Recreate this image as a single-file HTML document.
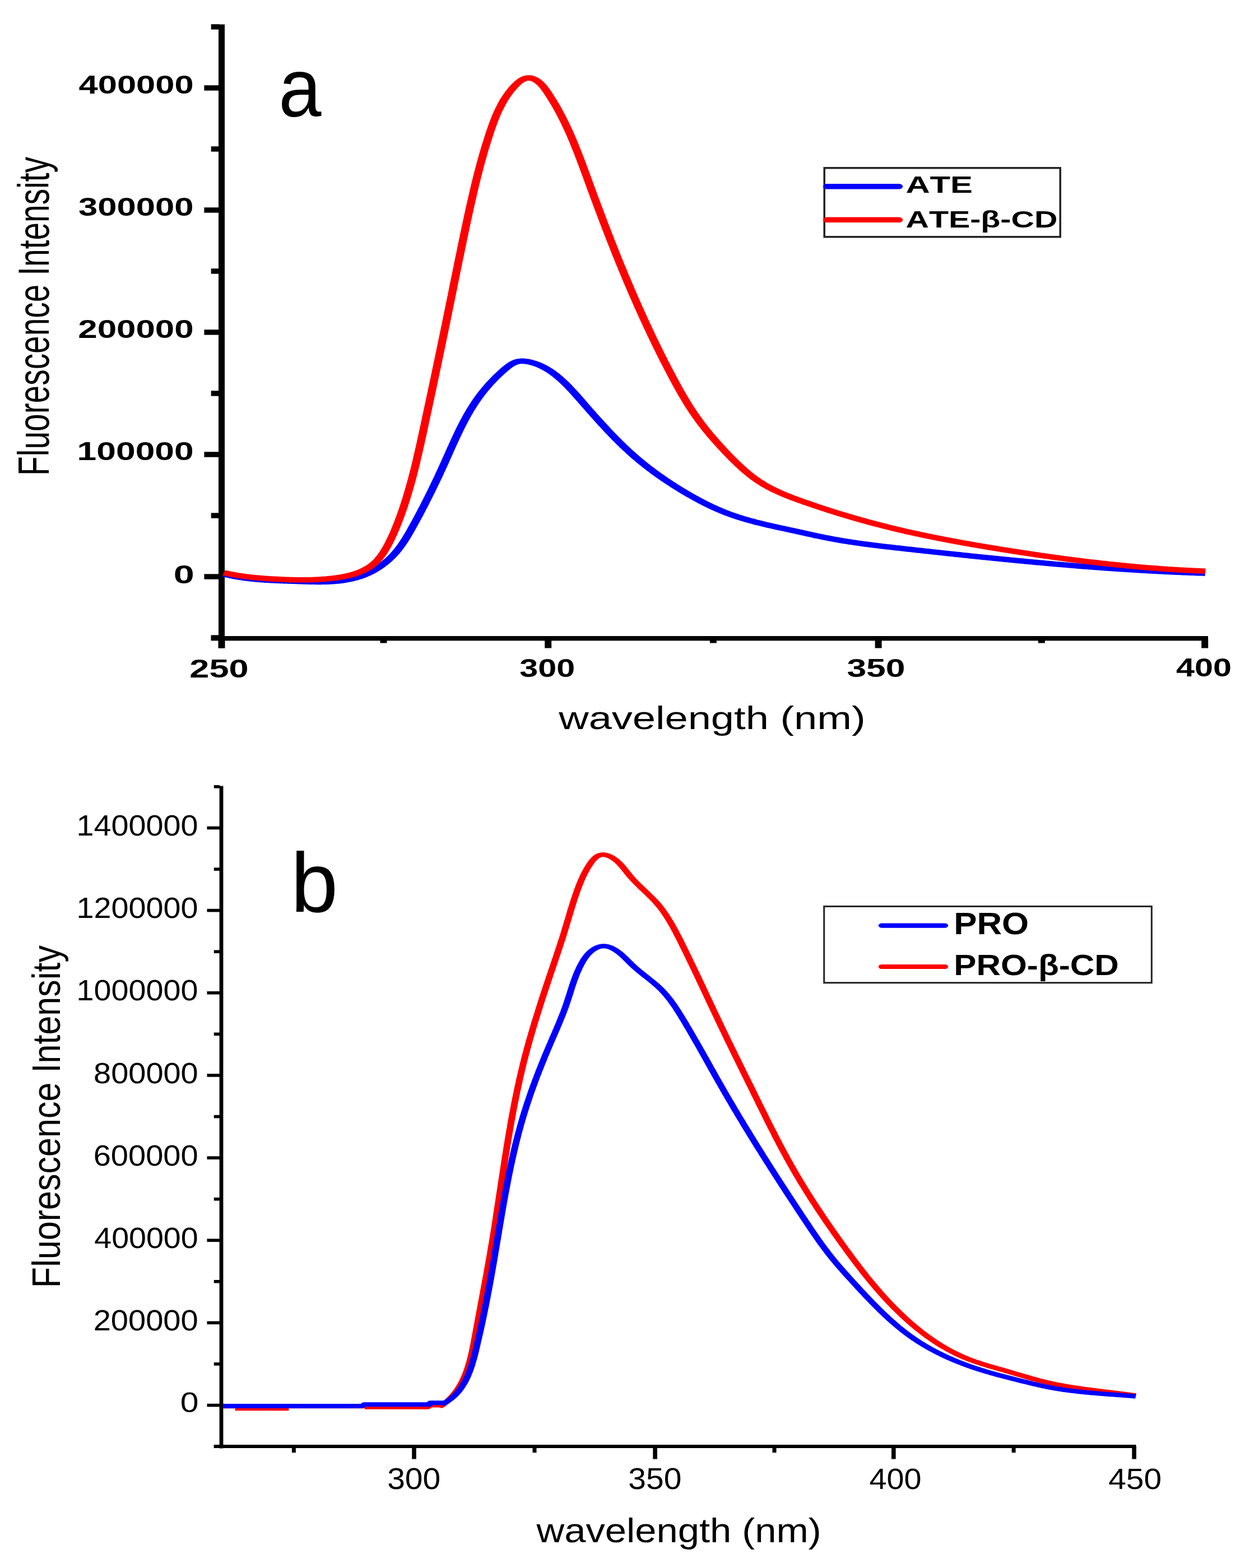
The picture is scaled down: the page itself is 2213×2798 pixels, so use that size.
<!DOCTYPE html>
<html><head><meta charset="utf-8"><title>Fluorescence spectra</title>
<style>
html,body{margin:0;padding:0;background:#fff;}
svg{display:block;}
text{font-family:"Liberation Sans",Arial,sans-serif;font-kerning:none;fill:#000;}
</style></head>
<body>
<svg width="2213" height="2798" viewBox="0 0 2213 2798">
<rect width="2213" height="2798" fill="#fff"/>
<rect x="390.0" y="43.5" width="11.0" height="1113.0" fill="#000"/>
<rect x="364.4" y="1024.3" width="26.6" height="9.4" fill="#000"/>
<rect x="364.4" y="806.3" width="26.6" height="9.4" fill="#000"/>
<rect x="364.4" y="588.2" width="26.6" height="9.4" fill="#000"/>
<rect x="364.4" y="370.2" width="26.6" height="9.4" fill="#000"/>
<rect x="364.4" y="152.2" width="26.6" height="9.4" fill="#000"/>
<rect x="376.7" y="1133.3" width="14.3" height="9.4" fill="#000"/>
<rect x="376.7" y="915.3" width="14.3" height="9.4" fill="#000"/>
<rect x="376.7" y="697.3" width="14.3" height="9.4" fill="#000"/>
<rect x="376.7" y="479.2" width="14.3" height="9.4" fill="#000"/>
<rect x="376.7" y="261.2" width="14.3" height="9.4" fill="#000"/>
<rect x="376.7" y="43.2" width="14.3" height="9.4" fill="#000"/>
<rect x="376.7" y="1135.0" width="1779.3" height="8.3" fill="#000"/>
<rect x="389.5" y="1140.0" width="12.0" height="16.5" fill="#000"/>
<rect x="972.2" y="1140.0" width="12.0" height="16.5" fill="#000"/>
<rect x="1561.6" y="1140.0" width="12.0" height="16.5" fill="#000"/>
<rect x="2144.2" y="1140.0" width="12.0" height="16.5" fill="#000"/>
<rect x="678.5" y="1140.0" width="12.0" height="7.5" fill="#000"/>
<rect x="1266.9" y="1140.0" width="12.0" height="7.5" fill="#000"/>
<rect x="1852.9" y="1140.0" width="12.0" height="7.5" fill="#000"/>
<text transform="translate(140.58 167.01) scale(1.3098 1)" font-size="46.93" font-weight="bold">400000</text>
<text transform="translate(140.11 384.93) scale(1.3174 1)" font-size="46.76" font-weight="bold">300000</text>
<text transform="translate(139.34 603.07) scale(1.3178 1)" font-size="46.93" font-weight="bold">200000</text>
<text transform="translate(137.60 821.10) scale(1.3290 1)" font-size="46.93" font-weight="bold">100000</text>
<text transform="translate(309.64 1040.94) scale(1.4350 1)" font-size="46.36" font-weight="bold">0</text>
<text transform="translate(338.29 1208.54) scale(1.3738 1)" font-size="45.94" font-weight="bold">250</text>
<text transform="translate(927.27 1208.12) scale(1.2826 1)" font-size="46.20" font-weight="bold">300</text>
<text transform="translate(1511.40 1208.12) scale(1.3514 1)" font-size="46.20" font-weight="bold">350</text>
<text transform="translate(2099.11 1207.23) scale(1.2686 1)" font-size="46.78" font-weight="bold">400</text>
<text transform="translate(997.19 1300.75) scale(1.2860 1)" font-size="57.59" font-weight="normal">wavelength (nm)</text>
<text transform="translate(87.08 848.99) rotate(-90) scale(0.7369 1)" font-size="77.21" font-weight="normal">Fluorescence Intensity</text>
<text transform="translate(497.37 208.11) scale(0.9209 1)" font-size="148.86" font-weight="normal">a</text>
<rect x="1471.2" y="299.7" width="421" height="123" fill="none" stroke="#222" stroke-width="3.5"/>
<text transform="translate(1616.40 343.80) scale(1.3987 1)" font-size="42.76" font-weight="bold">ATE</text>
<text transform="translate(1616.47 405.92) scale(1.3410 1)" font-size="42.79" font-weight="bold">ATE-β-CD</text>
<g transform="scale(1.500 1)">
<path d="M266.1 1024.4 L267.4 1024.9 268.7 1025.3 270.0 1025.8 271.3 1026.2 272.6 1026.6 274.0 1027.1 275.3 1027.5 276.6 1027.9 277.9 1028.2 279.2 1028.6 280.5 1029.0 281.8 1029.3 283.1 1029.6 284.5 1030.0 285.8 1030.3 287.1 1030.6 288.4 1030.9 289.7 1031.2 291.1 1031.4 292.4 1031.7 293.7 1032.0 295.0 1032.2 296.4 1032.4 297.7 1032.7 299.0 1032.9 300.3 1033.1 301.7 1033.3 303.0 1033.5 304.3 1033.7 305.7 1033.9 307.0 1034.1 308.3 1034.2 309.6 1034.4 311.0 1034.5 312.3 1034.7 313.6 1034.8 315.0 1035.0 316.3 1035.1 317.6 1035.2 319.0 1035.3 320.3 1035.4 321.6 1035.6 323.0 1035.7 324.3 1035.8 325.6 1035.9 327.0 1036.0 328.3 1036.0 329.6 1036.1 331.0 1036.2 332.3 1036.3 333.6 1036.4 335.0 1036.5 336.3 1036.5 337.6 1036.6 339.0 1036.7 340.3 1036.7 341.6 1036.8 343.0 1036.9 344.3 1037.0 345.6 1037.0 347.0 1037.1 348.3 1037.2 349.6 1037.2 351.0 1037.3 352.3 1037.4 353.6 1037.4 355.0 1037.5 356.3 1037.6 357.6 1037.7 359.0 1037.7 360.3 1037.8 361.6 1037.9 363.0 1037.9 364.3 1038.0 365.6 1038.0 367.0 1038.1 368.3 1038.2 369.7 1038.2 371.0 1038.2 372.3 1038.3 373.7 1038.3 375.0 1038.3 376.3 1038.4 377.7 1038.4 379.0 1038.4 380.3 1038.4 381.7 1038.4 383.0 1038.3 384.3 1038.3 385.7 1038.3 387.0 1038.2 388.3 1038.2 389.7 1038.1 391.0 1038.0 392.3 1037.9 393.7 1037.8 395.0 1037.7 396.3 1037.6 397.7 1037.4 399.0 1037.3 400.3 1037.1 401.7 1036.9 403.0 1036.7 404.3 1036.5 405.6 1036.2 407.0 1036.0 408.3 1035.7 409.6 1035.4 410.9 1035.1 412.2 1034.7 413.6 1034.4 414.9 1034.0 416.2 1033.6 417.5 1033.2 418.8 1032.8 420.1 1032.3 421.4 1031.8 422.7 1031.3 423.9 1030.8 425.2 1030.2 426.5 1029.6 427.8 1029.0 429.0 1028.4 430.3 1027.7 431.6 1027.0 432.8 1026.3 434.0 1025.6 435.3 1024.8 436.5 1024.0 437.7 1023.2 438.9 1022.4 440.1 1021.5 441.3 1020.6 442.5 1019.7 443.7 1018.7 444.9 1017.8 446.0 1016.8 447.2 1015.7 448.3 1014.7 449.4 1013.6 450.5 1012.5 451.7 1011.4 452.8 1010.3 453.8 1009.1 454.9 1007.9 456.0 1006.7 457.0 1005.5 458.1 1004.3 459.1 1003.0 460.1 1001.7 461.2 1000.4 462.2 999.1 463.1 997.7 464.1 996.4 465.1 995.0 466.0 993.6 467.0 992.1 467.9 990.7 468.8 989.2 469.7 987.7 470.6 986.2 471.5 984.7 472.3 983.2 473.2 981.6 474.0 980.1 474.8 978.5 475.6 976.9 476.4 975.3 477.2 973.7 478.0 972.0 478.7 970.4 479.5 968.7 480.2 967.1 481.0 965.4 481.7 963.7 482.4 962.0 483.1 960.3 483.8 958.6 484.5 956.9 485.2 955.2 485.9 953.5 486.5 951.8 487.2 950.0 487.9 948.3 488.5 946.5 489.2 944.8 489.8 943.1 490.5 941.3 491.1 939.6 491.8 937.8 492.4 936.1 493.1 934.3 493.7 932.5 494.4 930.8 495.0 929.0 495.6 927.3 496.3 925.5 496.9 923.7 497.5 922.0 498.2 920.2 498.8 918.4 499.4 916.7 500.0 914.9 500.7 913.1 501.3 911.4 501.9 909.6 502.5 907.8 503.1 906.0 503.8 904.3 504.4 902.5 505.0 900.7 505.6 898.9 506.2 897.1 506.8 895.4 507.4 893.6 508.0 891.8 508.6 890.0 509.2 888.2 509.8 886.4 510.4 884.6 511.0 882.8 511.6 881.0 512.2 879.2 512.8 877.4 513.4 875.6 514.0 873.9 514.5 872.1 515.1 870.3 515.7 868.5 516.3 866.6 516.9 864.8 517.4 863.0 518.0 861.2 518.6 859.4 519.2 857.6 519.7 855.8 520.3 854.0 520.9 852.2 521.5 850.4 522.0 848.6 522.6 846.7 523.1 844.9 523.7 843.1 524.3 841.3 524.8 839.5 525.4 837.7 525.9 835.8 526.5 834.0 527.1 832.2 527.6 830.4 528.2 828.6 528.7 826.7 529.3 824.9 529.8 823.1 530.3 821.3 530.9 819.4 531.4 817.6 532.0 815.8 532.5 813.9 533.1 812.1 533.6 810.3 534.2 808.5 534.7 806.6 535.2 804.8 535.8 803.0 536.3 801.1 536.9 799.3 537.4 797.5 538.0 795.7 538.5 793.8 539.1 792.0 539.6 790.2 540.2 788.4 540.7 786.6 541.3 784.7 541.9 782.9 542.4 781.1 543.0 779.3 543.6 777.5 544.1 775.7 544.7 773.9 545.3 772.1 545.9 770.2 546.4 768.4 547.0 766.6 547.6 764.9 548.2 763.1 548.8 761.3 549.4 759.5 550.0 757.7 550.6 755.9 551.2 754.1 551.9 752.4 552.5 750.6 553.1 748.8 553.8 747.1 554.4 745.3 555.0 743.6 555.7 741.8 556.3 740.1 557.0 738.3 557.7 736.6 558.3 734.9 559.0 733.1 559.7 731.4 560.4 729.7 561.1 728.0 561.8 726.3 562.5 724.6 563.2 722.9 564.0 721.2 564.7 719.6 565.4 717.9 566.2 716.2 566.9 714.6 567.7 713.0 568.5 711.3 569.3 709.7 570.0 708.1 570.8 706.5 571.6 704.9 572.5 703.3 573.3 701.7 574.1 700.1 574.9 698.6 575.8 697.0 576.6 695.4 577.5 693.9 578.3 692.4 579.2 690.9 580.1 689.3 581.0 687.8 581.8 686.3 582.7 684.9 583.6 683.4 584.5 681.9 585.5 680.5 586.4 679.0 587.3 677.6 588.2 676.1 589.2 674.7 590.1 673.3 591.1 671.9 592.0 670.5 593.0 669.1 594.0 667.7 594.9 666.4 595.9 665.0 596.9 663.7 597.9 662.3 598.9 661.0 599.9 659.7 600.9 658.4 601.9 657.1 603.0 655.8 604.0 654.6 605.1 653.4 606.2 652.2 607.3 651.1 608.4 650.0 609.6 649.0 610.8 648.1 612.0 647.2 613.2 646.5 614.5 645.8 615.7 645.3 617.0 644.9 618.4 644.6 619.7 644.4 621.0 644.3 622.4 644.4 623.7 644.5 625.0 644.7 626.4 644.9 627.7 645.2 629.0 645.6 630.3 646.0 631.6 646.5 632.9 647.0 634.2 647.6 635.4 648.1 636.7 648.8 638.0 649.4 639.2 650.1 640.5 650.9 641.7 651.6 642.9 652.4 644.1 653.3 645.3 654.1 646.5 655.0 647.7 656.0 648.9 656.9 650.0 657.9 651.2 658.9 652.3 660.0 653.5 661.0 654.6 662.1 655.7 663.2 656.8 664.4 657.9 665.5 658.9 666.7 660.0 667.9 661.1 669.2 662.1 670.4 663.1 671.7 664.2 672.9 665.2 674.2 666.2 675.5 667.2 676.9 668.2 678.2 669.2 679.6 670.2 680.9 671.1 682.3 672.1 683.7 673.0 685.1 674.0 686.5 674.9 687.9 675.9 689.3 676.8 690.8 677.7 692.2 678.6 693.7 679.6 695.1 680.5 696.6 681.4 698.1 682.3 699.5 683.2 701.0 684.1 702.5 685.0 704.0 685.9 705.5 686.7 707.0 687.6 708.5 688.5 710.0 689.4 711.5 690.3 713.0 691.2 714.5 692.0 716.0 692.9 717.5 693.8 719.0 694.7 720.5 695.5 722.0 696.4 723.6 697.3 725.1 698.2 726.6 699.1 728.1 699.9 729.6 700.8 731.1 701.7 732.6 702.6 734.1 703.5 735.6 704.4 737.1 705.2 738.6 706.1 740.1 707.0 741.6 707.9 743.1 708.8 744.6 709.7 746.1 710.6 747.5 711.5 749.0 712.4 750.5 713.3 752.0 714.2 753.5 715.0 755.0 715.9 756.5 716.9 757.9 717.8 759.4 718.7 760.9 719.6 762.3 720.5 763.8 721.4 765.3 722.3 766.7 723.2 768.2 724.1 769.6 725.0 771.1 726.0 772.6 726.9 774.0 727.8 775.4 728.7 776.9 729.7 778.3 730.6 779.8 731.5 781.2 732.5 782.6 733.4 784.0 734.4 785.4 735.3 786.9 736.3 788.3 737.2 789.7 738.2 791.1 739.1 792.5 740.1 793.9 741.0 795.3 742.0 796.6 743.0 798.0 743.9 799.4 744.9 800.8 745.9 802.1 746.9 803.5 747.8 804.8 748.8 806.2 749.8 807.5 750.8 808.9 751.8 810.2 752.8 811.5 753.8 812.9 754.8 814.2 755.8 815.5 756.8 816.8 757.9 818.1 758.9 819.4 759.9 820.7 760.9 822.0 762.0 823.2 763.0 824.5 764.0 825.8 765.1 827.0 766.1 828.3 767.1 829.5 768.2 830.8 769.2 832.0 770.3 833.2 771.4 834.5 772.4 835.7 773.5 836.9 774.5 838.1 775.6 839.3 776.7 840.5 777.7 841.7 778.8 842.9 779.9 844.1 781.0 845.2 782.1 846.4 783.1 847.6 784.2 848.7 785.3 849.9 786.4 851.0 787.5 852.2 788.6 853.3 789.7 854.5 790.8 855.6 791.9 856.7 793.0 857.8 794.1 858.9 795.2 860.0 796.4 861.2 797.5 862.3 798.6 863.3 799.7 864.4 800.8 865.5 802.0 866.6 803.1 867.7 804.2 868.7 805.4 869.8 806.5 870.8 807.6 871.9 808.8 872.9 809.9 874.0 811.0 875.0 812.2 876.1 813.3 877.1 814.5 878.1 815.6 879.1 816.8 880.1 817.9 881.1 819.1 882.2 820.2 883.2 821.4 884.1 822.6 885.1 823.7 886.1 824.9 887.1 826.1 888.1 827.2 889.0 828.4 890.0 829.6 891.0 830.7 891.9 831.9 892.9 833.1 893.8 834.3 894.7 835.5 895.7 836.6 896.6 837.8 897.5 839.0 898.4 840.2 899.3 841.4 900.2 842.6 901.1 843.8 901.9 845.0 902.8 846.2 903.7 847.4 904.5 848.6 905.4 849.9 906.2 851.1 907.0 852.3 907.8 853.5 908.7 854.7 909.4 856.0 910.2 857.2 911.0 858.4 911.8 859.7 912.5 860.9 913.3 862.1 914.0 863.4 914.8 864.6 915.5 865.9 916.2 867.1 916.9 868.4 917.6 869.6 918.3 870.9 918.9 872.2 919.6 873.4 920.2 874.7 920.9 875.9 921.5 877.2 922.2 878.5 922.8 879.8 923.4 881.0 924.0 882.3 924.6 883.6 925.2 884.9 925.7 886.1 926.3 887.4 926.9 888.7 927.4 890.0 928.0 891.3 928.5 892.6 929.1 893.8 929.6 895.1 930.1 896.4 930.6 897.7 931.2 899.0 931.7 900.3 932.2 901.6 932.7 902.9 933.1 904.2 933.6 905.5 934.1 906.8 934.6 908.1 935.0 909.4 935.5 910.7 936.0 912.0 936.4 913.3 936.9 914.6 937.3 915.9 937.8 917.2 938.2 918.5 938.6 919.8 939.1 921.1 939.5 922.4 939.9 923.7 940.4 925.0 940.8 926.3 941.2 927.6 941.7 928.9 942.1 930.2 942.5 931.5 942.9 932.8 943.3 934.1 943.8 935.4 944.2 936.7 944.6 938.0 945.0 939.3 945.5 940.6 945.9 942.0 946.3 943.3 946.7 944.6 947.2 945.9 947.6 947.2 948.0 948.5 948.4 949.8 948.9 951.1 949.3 952.4 949.7 953.7 950.2 955.0 950.6 956.3 951.0 957.6 951.5 958.9 951.9 960.2 952.4 961.5 952.8 962.8 953.2 964.1 953.6 965.4 954.1 966.7 954.5 968.0 954.9 969.3 955.4 970.6 955.8 971.9 956.2 973.2 956.6 974.5 957.0 975.9 957.4 977.2 957.8 978.5 958.3 979.8 958.7 981.1 959.1 982.4 959.4 983.7 959.8 985.0 960.2 986.3 960.6 987.6 961.0 988.9 961.3 990.3 961.7 991.6 962.1 992.9 962.4 994.2 962.8 995.5 963.1 996.8 963.5 998.1 963.8 999.5 964.2 1000.8 964.5 1002.1 964.8 1003.4 965.2 1004.7 965.5 1006.0 965.8 1007.4 966.1 1008.7 966.4 1010.0 966.7 1011.3 967.0 1012.6 967.3 1014.0 967.6 1015.3 967.9 1016.6 968.2 1017.9 968.5 1019.2 968.8 1020.6 969.1 1021.9 969.4 1023.2 969.6 1024.5 969.9 1025.9 970.2 1027.2 970.5 1028.5 970.7 1029.8 971.0 1031.1 971.3 1032.5 971.5 1033.8 971.8 1035.1 972.0 1036.4 972.3 1037.8 972.5 1039.1 972.8 1040.4 973.0 1041.7 973.3 1043.1 973.5 1044.4 973.8 1045.7 974.0 1047.0 974.2 1048.4 974.5 1049.7 974.7 1051.0 974.9 1052.3 975.2 1053.7 975.4 1055.0 975.6 1056.3 975.9 1057.6 976.1 1059.0 976.3 1060.3 976.6 1061.6 976.8 1062.9 977.0 1064.3 977.2 1065.6 977.5 1066.9 977.7 1068.3 977.9 1069.6 978.1 1070.9 978.3 1072.2 978.6 1073.6 978.8 1074.9 979.0 1076.2 979.2 1077.5 979.4 1078.9 979.7 1080.2 979.9 1081.5 980.1 1082.8 980.3 1084.2 980.6 1085.5 980.8 1086.8 981.0 1088.2 981.2 1089.5 981.4 1090.8 981.7 1092.1 981.9 1093.5 982.1 1094.8 982.3 1096.1 982.5 1097.4 982.7 1098.8 983.0 1100.1 983.2 1101.4 983.4 1102.8 983.6 1104.1 983.8 1105.4 984.1 1106.7 984.3 1108.1 984.5 1109.4 984.7 1110.7 984.9 1112.0 985.1 1113.4 985.4 1114.7 985.6 1116.0 985.8 1117.3 986.0 1118.7 986.2 1120.0 986.4 1121.3 986.6 1122.7 986.9 1124.0 987.1 1125.3 987.3 1126.6 987.5 1128.0 987.7 1129.3 987.9 1130.6 988.1 1131.9 988.4 1133.3 988.6 1134.6 988.8 1135.9 989.0 1137.3 989.2 1138.6 989.4 1139.9 989.6 1141.2 989.8 1142.6 990.1 1143.9 990.3 1145.2 990.5 1146.6 990.7 1147.9 990.9 1149.2 991.1 1150.5 991.3 1151.9 991.5 1153.2 991.7 1154.5 991.9 1155.8 992.2 1157.2 992.4 1158.5 992.6 1159.8 992.8 1161.2 993.0 1162.5 993.2 1163.8 993.4 1165.1 993.6 1166.5 993.8 1167.8 994.0 1169.1 994.2 1170.4 994.4 1171.8 994.6 1173.1 994.8 1174.4 995.0 1175.8 995.2 1177.1 995.4 1178.4 995.6 1179.7 995.8 1181.1 996.0 1182.4 996.2 1183.7 996.4 1185.1 996.6 1186.4 996.8 1187.7 997.0 1189.0 997.2 1190.4 997.4 1191.7 997.6 1193.0 997.8 1194.4 998.0 1195.7 998.2 1197.0 998.4 1198.3 998.6 1199.7 998.8 1201.0 999.0 1202.3 999.2 1203.7 999.4 1205.0 999.6 1206.3 999.8 1207.6 1000.0 1209.0 1000.2 1210.3 1000.4 1211.6 1000.5 1213.0 1000.7 1214.3 1000.9 1215.6 1001.1 1216.9 1001.3 1218.3 1001.5 1219.6 1001.7 1220.9 1001.9 1222.3 1002.1 1223.6 1002.2 1224.9 1002.4 1226.2 1002.6 1227.6 1002.8 1228.9 1003.0 1230.2 1003.2 1231.6 1003.4 1232.9 1003.5 1234.2 1003.7 1235.6 1003.9 1236.9 1004.1 1238.2 1004.3 1239.5 1004.4 1240.9 1004.6 1242.2 1004.8 1243.5 1005.0 1244.9 1005.2 1246.2 1005.3 1247.5 1005.5 1248.8 1005.7 1250.2 1005.9 1251.5 1006.0 1252.8 1006.2 1254.2 1006.4 1255.5 1006.6 1256.8 1006.7 1258.2 1006.9 1259.5 1007.1 1260.8 1007.3 1262.1 1007.4 1263.5 1007.6 1264.8 1007.8 1266.1 1007.9 1267.5 1008.1 1268.8 1008.3 1270.1 1008.4 1271.5 1008.6 1272.8 1008.8 1274.1 1008.9 1275.4 1009.1 1276.8 1009.3 1278.1 1009.4 1279.4 1009.6 1280.8 1009.8 1282.1 1009.9 1283.4 1010.1 1284.8 1010.2 1286.1 1010.4 1287.4 1010.6 1288.8 1010.7 1290.1 1010.9 1291.4 1011.0 1292.7 1011.2 1294.1 1011.3 1295.4 1011.5 1296.7 1011.6 1298.1 1011.8 1299.4 1011.9 1300.7 1012.1 1302.1 1012.2 1303.4 1012.4 1304.7 1012.5 1306.1 1012.7 1307.4 1012.8 1308.7 1013.0 1310.1 1013.1 1311.4 1013.3 1312.7 1013.4 1314.0 1013.6 1315.4 1013.7 1316.7 1013.9 1318.0 1014.0 1319.4 1014.1 1320.7 1014.3 1322.0 1014.4 1323.4 1014.6 1324.7 1014.7 1326.0 1014.8 1327.4 1015.0 1328.7 1015.1 1330.0 1015.2 1331.4 1015.4 1332.7 1015.5 1334.0 1015.6 1335.4 1015.8 1336.7 1015.9 1338.0 1016.0 1339.3 1016.2 1340.7 1016.3 1342.0 1016.4 1343.3 1016.5 1344.7 1016.7 1346.0 1016.8 1347.3 1016.9 1348.7 1017.0 1350.0 1017.2 1351.3 1017.3 1352.7 1017.4 1354.0 1017.5 1355.3 1017.6 1356.7 1017.8 1358.0 1017.9 1359.3 1018.0 1360.7 1018.1 1362.0 1018.2 1363.3 1018.3 1364.7 1018.5 1366.0 1018.6 1367.3 1018.7 1368.7 1018.8 1370.0 1018.9 1371.3 1019.0 1372.7 1019.1 1374.0 1019.2 1375.3 1019.3 1376.7 1019.4 1378.0 1019.5 1379.3 1019.6 1380.7 1019.7 1382.0 1019.8 1383.3 1019.9 1384.7 1020.0 1386.0 1020.1 1387.3 1020.2 1388.7 1020.3 1390.0 1020.4 1391.3 1020.5 1392.7 1020.6 1394.0 1020.7 1395.3 1020.8 1396.7 1020.9 1398.0 1021.0 1399.3 1021.1 1400.7 1021.1 1402.0 1021.2 1403.3 1021.3 1404.7 1021.4 1406.0 1021.5 1407.3 1021.6 1408.7 1021.7 1410.0 1021.7 1411.3 1021.8 1412.7 1021.9 1414.0 1022.0 1415.3 1022.0 1416.7 1022.1 1418.0 1022.2 1419.3 1022.3 1420.7 1022.3 1422.0 1022.4 1423.3 1022.5 1424.7 1022.6 1426.0 1022.6 1427.3 1022.7 1428.7 1022.8 1430.0 1022.8 1431.3 1022.9 1432.7 1022.9 1434.0 1023.0" fill="none" stroke="#0000ff" stroke-width="9.6" stroke-linejoin="round" stroke-linecap="butt"/>
<path d="M266.4 1021.9 L267.7 1022.4 269.0 1022.8 270.3 1023.3 271.7 1023.7 273.0 1024.1 274.3 1024.5 275.6 1024.9 276.9 1025.2 278.2 1025.6 279.5 1025.9 280.8 1026.3 282.1 1026.6 283.5 1026.9 284.8 1027.3 286.1 1027.6 287.4 1027.8 288.7 1028.1 290.1 1028.4 291.4 1028.7 292.7 1028.9 294.0 1029.2 295.4 1029.4 296.7 1029.6 298.0 1029.9 299.3 1030.1 300.7 1030.3 302.0 1030.5 303.3 1030.7 304.7 1030.9 306.0 1031.1 307.3 1031.3 308.6 1031.4 310.0 1031.6 311.3 1031.8 312.6 1031.9 314.0 1032.1 315.3 1032.2 316.6 1032.3 318.0 1032.5 319.3 1032.6 320.6 1032.7 322.0 1032.9 323.3 1033.0 324.6 1033.1 326.0 1033.2 327.3 1033.3 328.6 1033.4 330.0 1033.5 331.3 1033.6 332.6 1033.7 334.0 1033.8 335.3 1033.9 336.6 1034.0 338.0 1034.1 339.3 1034.2 340.6 1034.2 342.0 1034.3 343.3 1034.4 344.6 1034.5 346.0 1034.5 347.3 1034.6 348.6 1034.6 350.0 1034.7 351.3 1034.7 352.6 1034.7 354.0 1034.8 355.3 1034.8 356.6 1034.8 358.0 1034.8 359.3 1034.8 360.6 1034.8 362.0 1034.8 363.3 1034.8 364.7 1034.8 366.0 1034.7 367.3 1034.7 368.7 1034.7 370.0 1034.6 371.3 1034.5 372.7 1034.5 374.0 1034.4 375.3 1034.3 376.7 1034.2 378.0 1034.1 379.3 1034.0 380.7 1033.9 382.0 1033.8 383.3 1033.6 384.7 1033.5 386.0 1033.3 387.3 1033.2 388.6 1033.0 390.0 1032.8 391.3 1032.6 392.6 1032.4 394.0 1032.2 395.3 1032.0 396.6 1031.7 397.9 1031.5 399.3 1031.2 400.6 1031.0 401.9 1030.7 403.2 1030.4 404.5 1030.1 405.9 1029.7 407.2 1029.4 408.5 1029.0 409.8 1028.7 411.1 1028.3 412.4 1027.8 413.7 1027.4 415.0 1026.9 416.3 1026.5 417.6 1026.0 418.9 1025.4 420.2 1024.9 421.4 1024.3 422.7 1023.7 424.0 1023.0 425.2 1022.4 426.5 1021.7 427.7 1021.0 429.0 1020.2 430.2 1019.4 431.4 1018.6 432.6 1017.7 433.8 1016.8 435.0 1015.9 436.2 1014.9 437.3 1013.9 438.5 1012.9 439.6 1011.8 440.7 1010.7 441.8 1009.5 442.9 1008.3 443.9 1007.1 444.9 1005.8 445.9 1004.5 446.9 1003.1 447.9 1001.7 448.8 1000.3 449.7 998.8 450.6 997.3 451.4 995.8 452.3 994.2 453.1 992.6 453.9 991.0 454.7 989.4 455.4 987.8 456.2 986.1 456.9 984.4 457.6 982.7 458.3 981.0 459.0 979.3 459.6 977.5 460.3 975.8 460.9 974.0 461.6 972.3 462.2 970.5 462.8 968.7 463.4 966.9 464.0 965.1 464.6 963.3 465.2 961.5 465.7 959.7 466.3 957.9 466.9 956.1 467.4 954.3 468.0 952.5 468.5 950.6 469.0 948.8 469.6 946.9 470.1 945.1 470.6 943.3 471.1 941.4 471.6 939.6 472.1 937.7 472.6 935.8 473.1 934.0 473.6 932.1 474.1 930.2 474.5 928.4 475.0 926.5 475.5 924.6 476.0 922.7 476.4 920.9 476.9 919.0 477.3 917.1 477.8 915.2 478.2 913.3 478.7 911.4 479.1 909.5 479.5 907.7 480.0 905.8 480.4 903.9 480.8 902.0 481.2 900.1 481.6 898.2 482.0 896.2 482.4 894.3 482.9 892.4 483.3 890.5 483.7 888.6 484.0 886.7 484.4 884.8 484.8 882.9 485.2 880.9 485.6 879.0 486.0 877.1 486.3 875.2 486.7 873.3 487.1 871.3 487.4 869.4 487.8 867.5 488.2 865.6 488.5 863.6 488.9 861.7 489.2 859.8 489.6 857.8 489.9 855.9 490.3 854.0 490.6 852.0 491.0 850.1 491.3 848.2 491.6 846.2 492.0 844.3 492.3 842.3 492.6 840.4 493.0 838.5 493.3 836.5 493.6 834.6 493.9 832.6 494.2 830.7 494.6 828.7 494.9 826.8 495.2 824.8 495.5 822.9 495.8 820.9 496.1 819.0 496.4 817.1 496.7 815.1 497.0 813.2 497.3 811.2 497.6 809.3 497.9 807.3 498.2 805.3 498.5 803.4 498.8 801.4 499.1 799.5 499.4 797.5 499.7 795.6 500.0 793.6 500.3 791.7 500.6 789.7 500.8 787.8 501.1 785.8 501.4 783.8 501.7 781.9 502.0 779.9 502.3 778.0 502.6 776.0 502.8 774.1 503.1 772.1 503.4 770.2 503.7 768.2 504.0 766.2 504.2 764.3 504.5 762.3 504.8 760.4 505.1 758.4 505.4 756.4 505.6 754.5 505.9 752.5 506.2 750.6 506.5 748.6 506.8 746.7 507.0 744.7 507.3 742.7 507.6 740.8 507.9 738.8 508.2 736.9 508.4 734.9 508.7 733.0 509.0 731.0 509.3 729.0 509.6 727.1 509.8 725.1 510.1 723.2 510.4 721.2 510.7 719.2 511.0 717.3 511.2 715.3 511.5 713.4 511.8 711.4 512.1 709.5 512.3 707.5 512.6 705.5 512.9 703.6 513.2 701.6 513.5 699.7 513.7 697.7 514.0 695.7 514.3 693.8 514.6 691.8 514.8 689.9 515.1 687.9 515.4 686.0 515.7 684.0 516.0 682.0 516.2 680.1 516.5 678.1 516.8 676.2 517.1 674.2 517.3 672.2 517.6 670.3 517.9 668.3 518.2 666.4 518.4 664.4 518.7 662.4 519.0 660.5 519.3 658.5 519.5 656.6 519.8 654.6 520.1 652.6 520.4 650.7 520.6 648.7 520.9 646.8 521.2 644.8 521.5 642.8 521.7 640.9 522.0 638.9 522.3 637.0 522.6 635.0 522.8 633.0 523.1 631.1 523.4 629.1 523.7 627.2 523.9 625.2 524.2 623.2 524.5 621.3 524.7 619.3 525.0 617.4 525.3 615.4 525.6 613.4 525.8 611.5 526.1 609.5 526.4 607.6 526.6 605.6 526.9 603.6 527.2 601.7 527.5 599.7 527.7 597.8 528.0 595.8 528.3 593.8 528.5 591.9 528.8 589.9 529.1 588.0 529.3 586.0 529.6 584.0 529.9 582.1 530.2 580.1 530.4 578.1 530.7 576.2 531.0 574.2 531.2 572.3 531.5 570.3 531.8 568.3 532.0 566.4 532.3 564.4 532.6 562.5 532.8 560.5 533.1 558.5 533.4 556.6 533.6 554.6 533.9 552.6 534.2 550.7 534.4 548.7 534.7 546.8 535.0 544.8 535.2 542.8 535.5 540.9 535.8 538.9 536.0 536.9 536.3 535.0 536.6 533.0 536.8 531.1 537.1 529.1 537.4 527.1 537.6 525.2 537.9 523.2 538.2 521.2 538.4 519.3 538.7 517.3 539.0 515.4 539.2 513.4 539.5 511.4 539.7 509.5 540.0 507.5 540.3 505.5 540.5 503.6 540.8 501.6 541.1 499.7 541.3 497.7 541.6 495.7 541.9 493.8 542.1 491.8 542.4 489.9 542.7 487.9 542.9 485.9 543.2 484.0 543.5 482.0 543.7 480.0 544.0 478.1 544.3 476.1 544.5 474.2 544.8 472.2 545.1 470.2 545.3 468.3 545.6 466.3 545.9 464.3 546.1 462.4 546.4 460.4 546.7 458.5 547.0 456.5 547.2 454.5 547.5 452.6 547.8 450.6 548.0 448.7 548.3 446.7 548.6 444.7 548.8 442.8 549.1 440.8 549.4 438.9 549.7 436.9 549.9 434.9 550.2 433.0 550.5 431.0 550.7 429.0 551.0 427.1 551.3 425.1 551.6 423.2 551.8 421.2 552.1 419.2 552.4 417.3 552.7 415.3 552.9 413.4 553.2 411.4 553.5 409.5 553.8 407.5 554.0 405.5 554.3 403.6 554.6 401.6 554.9 399.7 555.2 397.7 555.4 395.7 555.7 393.8 556.0 391.8 556.3 389.9 556.6 387.9 556.8 386.0 557.1 384.0 557.4 382.0 557.7 380.1 558.0 378.1 558.3 376.2 558.5 374.2 558.8 372.3 559.1 370.3 559.4 368.4 559.7 366.4 560.0 364.4 560.3 362.5 560.6 360.5 560.9 358.6 561.2 356.6 561.5 354.7 561.8 352.7 562.1 350.8 562.4 348.8 562.7 346.9 563.0 344.9 563.3 343.0 563.6 341.0 563.9 339.1 564.2 337.1 564.5 335.2 564.8 333.2 565.1 331.3 565.4 329.3 565.7 327.4 566.1 325.4 566.4 323.5 566.7 321.6 567.0 319.6 567.3 317.7 567.7 315.7 568.0 313.8 568.3 311.8 568.7 309.9 569.0 308.0 569.3 306.0 569.7 304.1 570.0 302.2 570.3 300.2 570.7 298.3 571.0 296.3 571.4 294.4 571.7 292.5 572.1 290.5 572.4 288.6 572.8 286.7 573.1 284.8 573.5 282.8 573.9 280.9 574.2 279.0 574.6 277.0 575.0 275.1 575.3 273.2 575.7 271.3 576.1 269.4 576.4 267.4 576.8 265.5 577.2 263.6 577.6 261.7 578.0 259.8 578.4 257.8 578.8 255.9 579.2 254.0 579.6 252.1 580.0 250.2 580.4 248.3 580.8 246.4 581.2 244.5 581.6 242.6 582.0 240.7 582.4 238.8 582.8 236.9 583.3 235.0 583.7 233.1 584.1 231.2 584.6 229.3 585.0 227.4 585.4 225.5 585.9 223.6 586.3 221.7 586.8 219.9 587.3 218.0 587.7 216.1 588.2 214.2 588.7 212.4 589.2 210.5 589.7 208.7 590.2 206.8 590.7 205.0 591.3 203.1 591.8 201.3 592.4 199.5 592.9 197.7 593.5 195.8 594.1 194.0 594.7 192.2 595.3 190.5 595.9 188.7 596.5 186.9 597.1 185.1 597.8 183.4 598.5 181.7 599.1 179.9 599.8 178.2 600.5 176.5 601.2 174.8 602.0 173.2 602.7 171.5 603.5 169.8 604.2 168.2 605.0 166.6 605.8 165.0 606.6 163.4 607.5 161.8 608.3 160.3 609.2 158.7 610.0 157.2 610.9 155.7 611.8 154.2 612.7 152.8 613.7 151.4 614.6 150.0 615.6 148.6 616.6 147.3 617.7 146.0 618.7 144.8 619.8 143.7 621.0 142.6 622.1 141.7 623.3 140.8 624.6 140.1 625.9 139.5 627.2 139.2 628.5 139.0 629.8 139.0 631.2 139.2 632.5 139.6 633.7 140.2 635.0 140.9 636.2 141.8 637.4 142.8 638.5 143.8 639.6 144.9 640.7 146.2 641.7 147.4 642.7 148.8 643.7 150.1 644.6 151.6 645.5 153.1 646.4 154.6 647.2 156.1 648.0 157.7 648.8 159.3 649.6 160.9 650.4 162.6 651.1 164.2 651.9 165.9 652.6 167.6 653.3 169.2 654.1 170.9 654.8 172.6 655.5 174.3 656.2 176.0 656.9 177.7 657.6 179.4 658.3 181.1 659.0 182.8 659.7 184.5 660.4 186.3 661.0 188.0 661.7 189.7 662.4 191.5 663.0 193.2 663.7 195.0 664.3 196.7 664.9 198.5 665.6 200.2 666.2 202.0 666.8 203.8 667.5 205.5 668.1 207.3 668.7 209.1 669.3 210.9 669.9 212.7 670.5 214.5 671.1 216.3 671.7 218.1 672.3 219.9 672.8 221.7 673.4 223.5 674.0 225.3 674.5 227.1 675.1 228.9 675.7 230.7 676.2 232.5 676.8 234.4 677.3 236.2 677.9 238.0 678.4 239.9 678.9 241.7 679.5 243.5 680.0 245.4 680.5 247.2 681.0 249.0 681.6 250.9 682.1 252.7 682.6 254.6 683.1 256.4 683.6 258.3 684.1 260.1 684.6 262.0 685.1 263.9 685.6 265.7 686.1 267.6 686.6 269.4 687.1 271.3 687.6 273.2 688.1 275.0 688.5 276.9 689.0 278.8 689.5 280.6 690.0 282.5 690.5 284.4 690.9 286.2 691.4 288.1 691.9 290.0 692.3 291.9 692.8 293.7 693.3 295.6 693.7 297.5 694.2 299.4 694.7 301.3 695.1 303.1 695.6 305.0 696.1 306.9 696.5 308.8 697.0 310.6 697.4 312.5 697.9 314.4 698.4 316.3 698.8 318.2 699.3 320.1 699.7 321.9 700.2 323.8 700.6 325.7 701.1 327.6 701.6 329.5 702.0 331.3 702.5 333.2 702.9 335.1 703.4 337.0 703.8 338.9 704.3 340.7 704.8 342.6 705.2 344.5 705.7 346.4 706.2 348.3 706.6 350.1 707.1 352.0 707.5 353.9 708.0 355.8 708.5 357.6 708.9 359.5 709.4 361.4 709.9 363.3 710.3 365.2 710.8 367.0 711.3 368.9 711.7 370.8 712.2 372.7 712.7 374.5 713.1 376.4 713.6 378.3 714.1 380.2 714.6 382.0 715.0 383.9 715.5 385.8 716.0 387.6 716.4 389.5 716.9 391.4 717.4 393.3 717.9 395.1 718.3 397.0 718.8 398.9 719.3 400.7 719.8 402.6 720.3 404.5 720.7 406.3 721.2 408.2 721.7 410.1 722.2 412.0 722.7 413.8 723.1 415.7 723.6 417.6 724.1 419.4 724.6 421.3 725.1 423.2 725.6 425.0 726.0 426.9 726.5 428.7 727.0 430.6 727.5 432.5 728.0 434.3 728.5 436.2 729.0 438.1 729.5 439.9 730.0 441.8 730.5 443.6 730.9 445.5 731.4 447.4 731.9 449.2 732.4 451.1 732.9 452.9 733.4 454.8 733.9 456.7 734.4 458.5 734.9 460.4 735.4 462.2 735.9 464.1 736.4 465.9 736.9 467.8 737.4 469.7 737.9 471.5 738.4 473.4 739.0 475.2 739.5 477.1 740.0 478.9 740.5 480.8 741.0 482.6 741.5 484.5 742.0 486.3 742.5 488.2 743.0 490.0 743.5 491.9 744.1 493.7 744.6 495.6 745.1 497.4 745.6 499.3 746.1 501.1 746.6 502.9 747.2 504.8 747.7 506.6 748.2 508.5 748.7 510.3 749.3 512.2 749.8 514.0 750.3 515.8 750.8 517.7 751.4 519.5 751.9 521.4 752.4 523.2 752.9 525.0 753.5 526.9 754.0 528.7 754.5 530.5 755.1 532.4 755.6 534.2 756.2 536.0 756.7 537.9 757.2 539.7 757.8 541.5 758.3 543.4 758.8 545.2 759.4 547.0 759.9 548.9 760.5 550.7 761.0 552.5 761.6 554.3 762.1 556.2 762.7 558.0 763.2 559.8 763.8 561.6 764.3 563.5 764.9 565.3 765.4 567.1 766.0 568.9 766.5 570.8 767.1 572.6 767.7 574.4 768.2 576.2 768.8 578.0 769.3 579.8 769.9 581.7 770.5 583.5 771.0 585.3 771.6 587.1 772.2 588.9 772.7 590.7 773.3 592.5 773.9 594.3 774.4 596.2 775.0 598.0 775.6 599.8 776.2 601.6 776.7 603.4 777.3 605.2 777.9 607.0 778.5 608.8 779.1 610.6 779.6 612.4 780.2 614.2 780.8 616.0 781.4 617.8 782.0 619.6 782.6 621.4 783.2 623.2 783.8 625.0 784.3 626.8 784.9 628.6 785.5 630.4 786.1 632.2 786.7 634.0 787.3 635.7 787.9 637.5 788.5 639.3 789.1 641.1 789.7 642.9 790.3 644.7 790.9 646.5 791.6 648.2 792.2 650.0 792.8 651.8 793.4 653.6 794.0 655.4 794.6 657.1 795.2 658.9 795.8 660.7 796.5 662.5 797.1 664.2 797.7 666.0 798.3 667.8 799.0 669.6 799.6 671.3 800.2 673.1 800.8 674.9 801.5 676.6 802.1 678.4 802.7 680.2 803.4 681.9 804.0 683.7 804.6 685.4 805.3 687.2 805.9 688.9 806.6 690.7 807.2 692.4 807.9 694.2 808.5 695.9 809.2 697.7 809.8 699.4 810.5 701.2 811.2 702.9 811.8 704.6 812.5 706.4 813.2 708.1 813.9 709.8 814.5 711.5 815.2 713.2 815.9 715.0 816.6 716.7 817.3 718.4 818.0 720.1 818.7 721.8 819.4 723.5 820.1 725.2 820.9 726.9 821.6 728.5 822.3 730.2 823.1 731.9 823.8 733.6 824.5 735.2 825.3 736.9 826.0 738.5 826.8 740.2 827.6 741.8 828.3 743.5 829.1 745.1 829.9 746.7 830.7 748.4 831.4 750.0 832.2 751.6 833.0 753.2 833.8 754.8 834.6 756.4 835.4 758.0 836.3 759.6 837.1 761.1 837.9 762.7 838.7 764.3 839.6 765.9 840.4 767.4 841.2 769.0 842.1 770.5 842.9 772.1 843.8 773.6 844.6 775.2 845.5 776.7 846.4 778.2 847.2 779.7 848.1 781.3 849.0 782.8 849.8 784.3 850.7 785.8 851.6 787.3 852.5 788.8 853.4 790.3 854.3 791.8 855.2 793.3 856.1 794.7 857.0 796.2 857.9 797.7 858.8 799.2 859.7 800.6 860.6 802.1 861.5 803.6 862.4 805.0 863.3 806.5 864.3 807.9 865.2 809.4 866.1 810.8 867.0 812.3 868.0 813.7 868.9 815.1 869.8 816.6 870.8 818.0 871.7 819.4 872.7 820.8 873.6 822.2 874.6 823.6 875.5 825.0 876.5 826.4 877.4 827.8 878.4 829.2 879.4 830.5 880.4 831.9 881.4 833.2 882.3 834.6 883.3 835.9 884.3 837.3 885.3 838.6 886.3 839.9 887.4 841.2 888.4 842.5 889.4 843.8 890.4 845.0 891.5 846.3 892.5 847.5 893.6 848.8 894.6 850.0 895.7 851.2 896.8 852.4 897.8 853.6 898.9 854.7 900.0 855.9 901.1 857.0 902.2 858.2 903.3 859.3 904.5 860.4 905.6 861.4 906.7 862.5 907.8 863.6 909.0 864.6 910.1 865.6 911.3 866.6 912.5 867.6 913.6 868.5 914.8 869.5 916.0 870.4 917.2 871.4 918.4 872.3 919.5 873.2 920.7 874.1 921.9 874.9 923.2 875.8 924.4 876.6 925.6 877.5 926.8 878.3 928.0 879.1 929.2 879.9 930.5 880.7 931.7 881.5 932.9 882.3 934.1 883.0 935.4 883.8 936.6 884.6 937.9 885.3 939.1 886.0 940.3 886.8 941.6 887.5 942.8 888.2 944.1 888.9 945.3 889.6 946.6 890.3 947.8 891.0 949.1 891.7 950.4 892.3 951.6 893.0 952.9 893.7 954.1 894.4 955.4 895.0 956.6 895.7 957.9 896.4 959.2 897.0 960.4 897.7 961.7 898.3 962.9 899.0 964.2 899.6 965.5 900.3 966.7 900.9 968.0 901.6 969.3 902.2 970.5 902.9 971.8 903.5 973.1 904.1 974.3 904.8 975.6 905.4 976.9 906.0 978.1 906.7 979.4 907.3 980.7 907.9 981.9 908.5 983.2 909.1 984.5 909.7 985.8 910.4 987.0 911.0 988.3 911.6 989.6 912.2 990.8 912.8 992.1 913.4 993.4 914.0 994.7 914.6 995.9 915.2 997.2 915.8 998.5 916.4 999.8 916.9 1001.0 917.5 1002.3 918.1 1003.6 918.7 1004.9 919.3 1006.2 919.8 1007.4 920.4 1008.7 921.0 1010.0 921.6 1011.3 922.1 1012.6 922.7 1013.8 923.2 1015.1 923.8 1016.4 924.4 1017.7 924.9 1019.0 925.5 1020.2 926.0 1021.5 926.6 1022.8 927.1 1024.1 927.7 1025.4 928.2 1026.7 928.7 1028.0 929.3 1029.2 929.8 1030.5 930.3 1031.8 930.9 1033.1 931.4 1034.4 931.9 1035.7 932.4 1037.0 933.0 1038.3 933.5 1039.6 934.0 1040.8 934.5 1042.1 935.0 1043.4 935.5 1044.7 936.0 1046.0 936.5 1047.3 937.0 1048.6 937.5 1049.9 938.0 1051.2 938.5 1052.5 939.0 1053.8 939.5 1055.1 940.0 1056.4 940.5 1057.7 941.0 1059.0 941.4 1060.2 941.9 1061.5 942.4 1062.8 942.9 1064.1 943.3 1065.4 943.8 1066.7 944.3 1068.0 944.7 1069.3 945.2 1070.6 945.7 1071.9 946.1 1073.2 946.6 1074.5 947.0 1075.8 947.5 1077.1 947.9 1078.4 948.4 1079.7 948.8 1081.0 949.2 1082.3 949.7 1083.6 950.1 1085.0 950.5 1086.3 951.0 1087.6 951.4 1088.9 951.8 1090.2 952.3 1091.5 952.7 1092.8 953.1 1094.1 953.5 1095.4 953.9 1096.7 954.4 1098.0 954.8 1099.3 955.2 1100.6 955.6 1101.9 956.0 1103.2 956.4 1104.5 956.8 1105.8 957.2 1107.1 957.6 1108.5 958.0 1109.8 958.4 1111.1 958.8 1112.4 959.2 1113.7 959.6 1115.0 960.0 1116.3 960.4 1117.6 960.8 1118.9 961.1 1120.2 961.5 1121.6 961.9 1122.9 962.3 1124.2 962.7 1125.5 963.0 1126.8 963.4 1128.1 963.8 1129.4 964.2 1130.7 964.5 1132.0 964.9 1133.4 965.3 1134.7 965.6 1136.0 966.0 1137.3 966.4 1138.6 966.7 1139.9 967.1 1141.2 967.4 1142.5 967.8 1143.9 968.2 1145.2 968.5 1146.5 968.9 1147.8 969.2 1149.1 969.6 1150.4 969.9 1151.7 970.3 1153.1 970.6 1154.4 971.0 1155.7 971.3 1157.0 971.7 1158.3 972.0 1159.6 972.3 1161.0 972.7 1162.3 973.0 1163.6 973.4 1164.9 973.7 1166.2 974.0 1167.5 974.4 1168.8 974.7 1170.2 975.0 1171.5 975.4 1172.8 975.7 1174.1 976.0 1175.4 976.4 1176.7 976.7 1178.1 977.0 1179.4 977.3 1180.7 977.7 1182.0 978.0 1183.3 978.3 1184.7 978.6 1186.0 979.0 1187.3 979.3 1188.6 979.6 1189.9 979.9 1191.2 980.2 1192.6 980.6 1193.9 980.9 1195.2 981.2 1196.5 981.5 1197.8 981.8 1199.1 982.1 1200.5 982.4 1201.8 982.8 1203.1 983.1 1204.4 983.4 1205.7 983.7 1207.1 984.0 1208.4 984.3 1209.7 984.6 1211.0 984.9 1212.3 985.2 1213.7 985.5 1215.0 985.8 1216.3 986.1 1217.6 986.4 1218.9 986.7 1220.3 987.0 1221.6 987.3 1222.9 987.6 1224.2 987.9 1225.5 988.2 1226.9 988.5 1228.2 988.8 1229.5 989.1 1230.8 989.4 1232.1 989.7 1233.5 990.0 1234.8 990.3 1236.1 990.6 1237.4 990.9 1238.7 991.2 1240.1 991.4 1241.4 991.7 1242.7 992.0 1244.0 992.3 1245.3 992.6 1246.7 992.8 1248.0 993.1 1249.3 993.4 1250.6 993.7 1252.0 994.0 1253.3 994.2 1254.6 994.5 1255.9 994.8 1257.2 995.1 1258.6 995.3 1259.9 995.6 1261.2 995.9 1262.5 996.1 1263.9 996.4 1265.2 996.7 1266.5 996.9 1267.8 997.2 1269.2 997.4 1270.5 997.7 1271.8 998.0 1273.1 998.2 1274.5 998.5 1275.8 998.7 1277.1 999.0 1278.4 999.2 1279.7 999.5 1281.1 999.8 1282.4 1000.0 1283.7 1000.2 1285.0 1000.5 1286.4 1000.7 1287.7 1001.0 1289.0 1001.2 1290.3 1001.5 1291.7 1001.7 1293.0 1002.0 1294.3 1002.2 1295.6 1002.4 1297.0 1002.7 1298.3 1002.9 1299.6 1003.1 1301.0 1003.4 1302.3 1003.6 1303.6 1003.8 1304.9 1004.1 1306.3 1004.3 1307.6 1004.5 1308.9 1004.7 1310.2 1005.0 1311.6 1005.2 1312.9 1005.4 1314.2 1005.6 1315.5 1005.8 1316.9 1006.1 1318.2 1006.3 1319.5 1006.5 1320.9 1006.7 1322.2 1006.9 1323.5 1007.1 1324.8 1007.3 1326.2 1007.5 1327.5 1007.7 1328.8 1007.9 1330.1 1008.1 1331.5 1008.3 1332.8 1008.5 1334.1 1008.7 1335.5 1008.9 1336.8 1009.1 1338.1 1009.3 1339.4 1009.5 1340.8 1009.7 1342.1 1009.9 1343.4 1010.1 1344.8 1010.3 1346.1 1010.5 1347.4 1010.6 1348.7 1010.8 1350.1 1011.0 1351.4 1011.2 1352.7 1011.4 1354.1 1011.5 1355.4 1011.7 1356.7 1011.9 1358.1 1012.1 1359.4 1012.2 1360.7 1012.4 1362.0 1012.6 1363.4 1012.7 1364.7 1012.9 1366.0 1013.1 1367.4 1013.2 1368.7 1013.4 1370.0 1013.5 1371.4 1013.7 1372.7 1013.8 1374.0 1014.0 1375.4 1014.1 1376.7 1014.3 1378.0 1014.4 1379.3 1014.6 1380.7 1014.7 1382.0 1014.9 1383.3 1015.0 1384.7 1015.2 1386.0 1015.3 1387.3 1015.4 1388.7 1015.6 1390.0 1015.7 1391.3 1015.8 1392.7 1016.0 1394.0 1016.1 1395.3 1016.2 1396.7 1016.3 1398.0 1016.5 1399.3 1016.6 1400.7 1016.7 1402.0 1016.8 1403.3 1016.9 1404.7 1017.1 1406.0 1017.2 1407.3 1017.3 1408.7 1017.4 1410.0 1017.5 1411.3 1017.6 1412.7 1017.7 1414.0 1017.8 1415.3 1017.9 1416.7 1018.0 1418.0 1018.1 1419.3 1018.2 1420.7 1018.3 1422.0 1018.4 1423.3 1018.5 1424.7 1018.6 1426.0 1018.6 1427.3 1018.7 1428.7 1018.8 1430.0 1018.9 1431.3 1019.0 1432.7 1019.0 1434.0 1019.1" fill="none" stroke="#ff0000" stroke-width="9.6" stroke-linejoin="round" stroke-linecap="butt"/>
<line x1="984.0" y1="332.8" x2="1069.3" y2="332.8" stroke="#0000ff" stroke-width="9.6" stroke-linecap="round"/>
<line x1="984.0" y1="392.3" x2="1069.3" y2="392.3" stroke="#ff0000" stroke-width="9.6" stroke-linecap="round"/>
</g>
<rect x="391.6" y="1402.5" width="6.8" height="1182.0" fill="#000"/>
<rect x="369.5" y="2504.8" width="22.5" height="5.6" fill="#000"/>
<rect x="369.5" y="2357.6" width="22.5" height="5.6" fill="#000"/>
<rect x="369.5" y="2210.5" width="22.5" height="5.6" fill="#000"/>
<rect x="369.5" y="2063.3" width="22.5" height="5.6" fill="#000"/>
<rect x="369.5" y="1916.1" width="22.5" height="5.6" fill="#000"/>
<rect x="369.5" y="1768.9" width="22.5" height="5.6" fill="#000"/>
<rect x="369.5" y="1621.8" width="22.5" height="5.6" fill="#000"/>
<rect x="369.5" y="1474.6" width="22.5" height="5.6" fill="#000"/>
<rect x="381.8" y="2578.4" width="10.2" height="5.6" fill="#000"/>
<rect x="381.8" y="2431.2" width="10.2" height="5.6" fill="#000"/>
<rect x="381.8" y="2284.0" width="10.2" height="5.6" fill="#000"/>
<rect x="381.8" y="2136.9" width="10.2" height="5.6" fill="#000"/>
<rect x="381.8" y="1989.7" width="10.2" height="5.6" fill="#000"/>
<rect x="381.8" y="1842.5" width="10.2" height="5.6" fill="#000"/>
<rect x="381.8" y="1695.4" width="10.2" height="5.6" fill="#000"/>
<rect x="381.8" y="1548.2" width="10.2" height="5.6" fill="#000"/>
<rect x="381.8" y="1401.0" width="10.2" height="5.6" fill="#000"/>
<rect x="381.8" y="2578.0" width="1645.7" height="6.0" fill="#000"/>
<rect x="735.2" y="2581.0" width="7.6" height="22.6" fill="#000"/>
<rect x="1165.3" y="2581.0" width="7.6" height="22.6" fill="#000"/>
<rect x="1591.0" y="2581.0" width="7.6" height="22.6" fill="#000"/>
<rect x="2020.3" y="2581.0" width="7.6" height="22.6" fill="#000"/>
<rect x="520.9" y="2581.0" width="7.0" height="11.2" fill="#000"/>
<rect x="950.5" y="2581.0" width="7.0" height="11.2" fill="#000"/>
<rect x="1378.5" y="2581.0" width="7.0" height="11.2" fill="#000"/>
<rect x="1805.6" y="2581.0" width="7.0" height="11.2" fill="#000"/>
<text transform="translate(136.52 1491.08) scale(1.0839 1)" font-size="51.45" font-weight="normal">1400000</text>
<text transform="translate(136.52 1638.25) scale(1.0839 1)" font-size="51.45" font-weight="normal">1200000</text>
<text transform="translate(136.52 1785.43) scale(1.0839 1)" font-size="51.45" font-weight="normal">1000000</text>
<text transform="translate(167.12 1932.60) scale(1.0868 1)" font-size="51.45" font-weight="normal">800000</text>
<text transform="translate(166.70 2079.77) scale(1.0893 1)" font-size="51.45" font-weight="normal">600000</text>
<text transform="translate(168.25 2226.94) scale(1.0802 1)" font-size="51.45" font-weight="normal">400000</text>
<text transform="translate(166.70 2374.11) scale(1.0893 1)" font-size="51.45" font-weight="normal">200000</text>
<text transform="translate(321.85 2520.40) scale(1.1695 1)" font-size="50.32" font-weight="normal">0</text>
<text transform="translate(691.16 2657.17) scale(1.0803 1)" font-size="52.72" font-weight="normal">300</text>
<text transform="translate(1121.36 2657.17) scale(1.0803 1)" font-size="52.72" font-weight="normal">350</text>
<text transform="translate(1551.45 2657.18) scale(1.0687 1)" font-size="52.16" font-weight="normal">400</text>
<text transform="translate(1978.22 2657.18) scale(1.0890 1)" font-size="52.16" font-weight="normal">450</text>
<text transform="translate(957.57 2752.19) scale(1.1406 1)" font-size="60.27" font-weight="normal">wavelength (nm)</text>
<text transform="translate(106.85 2298.14) rotate(-90) scale(0.8712 1)" font-size="70.13" font-weight="normal">Fluorescence Intensity</text>
<text transform="translate(519.05 1627.40) scale(1.0127 1)" font-size="149.66" font-weight="normal">b</text>
<rect x="1470.7" y="1617.4" width="584.6" height="136.3" fill="none" stroke="#222" stroke-width="3"/>
<text transform="translate(1702.23 1666.84) scale(1.1130 1)" font-size="55.55" font-weight="bold">PRO</text>
<text transform="translate(1702.34 1740.36) scale(1.1531 1)" font-size="52.23" font-weight="bold">PRO-β-CD</text>
<g transform="scale(1.500 1)">
<path d="M265.3 2509.3 L279.0 2509.3" fill="none" stroke="#ff0000" stroke-width="8.0" stroke-linejoin="round" stroke-linecap="butt"/>
<path d="M279.7 2513.3 L343.6 2513.3" fill="none" stroke="#ff0000" stroke-width="8.0" stroke-linejoin="round" stroke-linecap="butt"/>
<path d="M344.0 2509.3 L432.7 2509.3" fill="none" stroke="#ff0000" stroke-width="8.0" stroke-linejoin="round" stroke-linecap="butt"/>
<path d="M433.7 2510.8 L509.3 2510.8 510.7 2507.5 523.3 2507.3 525.1 2508.5 526.2 2507.3 527.3 2506.2 528.4 2504.9 529.4 2503.7 530.5 2502.5 531.5 2501.2 532.5 2499.8 533.5 2498.5 534.4 2497.1 535.4 2495.7 536.3 2494.3 537.3 2492.8 538.2 2491.4 539.0 2489.9 539.9 2488.3 540.7 2486.8 541.6 2485.2 542.4 2483.6 543.2 2482.0 543.9 2480.4 544.7 2478.7 545.4 2477.1 546.2 2475.4 546.8 2473.7 547.5 2471.9 548.2 2470.2 548.8 2468.4 549.5 2466.7 550.1 2464.9 550.7 2463.1 551.2 2461.3 551.8 2459.5 552.3 2457.6 552.9 2455.8 553.4 2454.0 553.9 2452.1 554.4 2450.2 554.9 2448.4 555.3 2446.5 555.8 2444.6 556.2 2442.7 556.6 2440.8 557.0 2438.9 557.4 2437.0 557.8 2435.1 558.2 2433.1 558.6 2431.2 558.9 2429.3 559.3 2427.4 559.6 2425.4 559.9 2423.5 560.3 2421.5 560.6 2419.6 560.9 2417.6 561.2 2415.7 561.5 2413.7 561.8 2411.8 562.0 2409.8 562.3 2407.9 562.6 2405.9 562.9 2403.9 563.1 2402.0 563.4 2400.0 563.6 2398.1 563.9 2396.1 564.1 2394.1 564.4 2392.2 564.6 2390.2 564.9 2388.2 565.1 2386.2 565.4 2384.3 565.6 2382.3 565.8 2380.3 566.1 2378.4 566.3 2376.4 566.6 2374.4 566.8 2372.5 567.0 2370.5 567.3 2368.5 567.5 2366.6 567.8 2364.6 568.0 2362.6 568.3 2360.6 568.5 2358.7 568.7 2356.7 569.0 2354.7 569.2 2352.8 569.5 2350.8 569.7 2348.8 570.0 2346.9 570.2 2344.9 570.5 2342.9 570.7 2341.0 570.9 2339.0 571.2 2337.0 571.4 2335.1 571.7 2333.1 571.9 2331.1 572.2 2329.1 572.4 2327.2 572.7 2325.2 572.9 2323.2 573.1 2321.3 573.4 2319.3 573.6 2317.3 573.9 2315.4 574.1 2313.4 574.4 2311.4 574.6 2309.5 574.9 2307.5 575.1 2305.5 575.3 2303.6 575.6 2301.6 575.8 2299.6 576.1 2297.6 576.3 2295.7 576.6 2293.7 576.8 2291.7 577.0 2289.8 577.3 2287.8 577.5 2285.8 577.8 2283.9 578.0 2281.9 578.2 2279.9 578.5 2277.9 578.7 2276.0 579.0 2274.0 579.2 2272.0 579.4 2270.1 579.7 2268.1 579.9 2266.1 580.1 2264.2 580.4 2262.2 580.6 2260.2 580.8 2258.2 581.1 2256.3 581.3 2254.3 581.5 2252.3 581.8 2250.4 582.0 2248.4 582.2 2246.4 582.5 2244.4 582.7 2242.5 582.9 2240.5 583.2 2238.5 583.4 2236.5 583.6 2234.6 583.8 2232.6 584.1 2230.6 584.3 2228.6 584.5 2226.7 584.7 2224.7 584.9 2222.7 585.2 2220.8 585.4 2218.8 585.6 2216.8 585.8 2214.8 586.0 2212.8 586.3 2210.9 586.5 2208.9 586.7 2206.9 586.9 2204.9 587.1 2203.0 587.3 2201.0 587.5 2199.0 587.7 2197.0 588.0 2195.1 588.2 2193.1 588.4 2191.1 588.6 2189.1 588.8 2187.1 589.0 2185.2 589.2 2183.2 589.4 2181.2 589.6 2179.2 589.8 2177.3 590.0 2175.3 590.2 2173.3 590.4 2171.3 590.6 2169.3 590.8 2167.4 591.0 2165.4 591.2 2163.4 591.4 2161.4 591.6 2159.4 591.8 2157.5 592.0 2155.5 592.2 2153.5 592.4 2151.5 592.6 2149.5 592.8 2147.6 593.0 2145.6 593.2 2143.6 593.4 2141.6 593.6 2139.6 593.8 2137.7 594.0 2135.7 594.2 2133.7 594.4 2131.7 594.6 2129.7 594.8 2127.8 595.0 2125.8 595.2 2123.8 595.4 2121.8 595.6 2119.8 595.8 2117.9 596.0 2115.9 596.2 2113.9 596.4 2111.9 596.6 2109.9 596.8 2108.0 597.0 2106.0 597.2 2104.0 597.4 2102.0 597.6 2100.0 597.8 2098.1 598.0 2096.1 598.2 2094.1 598.4 2092.1 598.6 2090.1 598.8 2088.2 599.0 2086.2 599.2 2084.2 599.4 2082.2 599.6 2080.2 599.8 2078.3 600.0 2076.3 600.2 2074.3 600.4 2072.3 600.6 2070.3 600.8 2068.4 601.0 2066.4 601.2 2064.4 601.4 2062.4 601.7 2060.4 601.9 2058.5 602.1 2056.5 602.3 2054.5 602.5 2052.5 602.7 2050.6 602.9 2048.6 603.1 2046.6 603.3 2044.6 603.5 2042.6 603.8 2040.7 604.0 2038.7 604.2 2036.7 604.4 2034.7 604.6 2032.8 604.8 2030.8 605.1 2028.8 605.3 2026.8 605.5 2024.9 605.7 2022.9 606.0 2020.9 606.2 2018.9 606.4 2017.0 606.6 2015.0 606.9 2013.0 607.1 2011.1 607.3 2009.1 607.5 2007.1 607.8 2005.1 608.0 2003.2 608.2 2001.2 608.5 1999.2 608.7 1997.2 608.9 1995.3 609.2 1993.3 609.4 1991.3 609.7 1989.4 609.9 1987.4 610.1 1985.4 610.4 1983.5 610.6 1981.5 610.9 1979.5 611.1 1977.6 611.4 1975.6 611.6 1973.6 611.9 1971.7 612.1 1969.7 612.4 1967.7 612.7 1965.8 612.9 1963.8 613.2 1961.8 613.4 1959.9 613.7 1957.9 614.0 1955.9 614.2 1954.0 614.5 1952.0 614.8 1950.1 615.0 1948.1 615.3 1946.1 615.6 1944.2 615.9 1942.2 616.1 1940.3 616.4 1938.3 616.7 1936.3 617.0 1934.4 617.3 1932.4 617.6 1930.5 617.8 1928.5 618.1 1926.6 618.4 1924.6 618.7 1922.7 619.0 1920.7 619.3 1918.8 619.6 1916.8 619.9 1914.9 620.2 1912.9 620.5 1911.0 620.8 1909.0 621.2 1907.1 621.5 1905.1 621.8 1903.2 622.1 1901.2 622.4 1899.3 622.7 1897.3 623.1 1895.4 623.4 1893.4 623.7 1891.5 624.0 1889.6 624.4 1887.6 624.7 1885.7 625.0 1883.7 625.4 1881.8 625.7 1879.9 626.1 1877.9 626.4 1876.0 626.7 1874.1 627.1 1872.1 627.4 1870.2 627.8 1868.3 628.1 1866.3 628.5 1864.4 628.9 1862.5 629.2 1860.5 629.6 1858.6 629.9 1856.7 630.3 1854.8 630.7 1852.8 631.0 1850.9 631.4 1849.0 631.8 1847.1 632.1 1845.1 632.5 1843.2 632.9 1841.3 633.3 1839.4 633.6 1837.4 634.0 1835.5 634.4 1833.6 634.8 1831.7 635.2 1829.8 635.5 1827.9 635.9 1825.9 636.3 1824.0 636.7 1822.1 637.1 1820.2 637.5 1818.3 637.9 1816.4 638.3 1814.4 638.7 1812.5 639.1 1810.6 639.5 1808.7 639.9 1806.8 640.3 1804.9 640.7 1803.0 641.1 1801.1 641.5 1799.2 641.9 1797.3 642.3 1795.3 642.7 1793.4 643.1 1791.5 643.5 1789.6 643.9 1787.7 644.3 1785.8 644.7 1783.9 645.1 1782.0 645.5 1780.1 646.0 1778.2 646.4 1776.3 646.8 1774.4 647.2 1772.5 647.6 1770.6 648.0 1768.7 648.5 1766.8 648.9 1764.9 649.3 1763.0 649.7 1761.1 650.1 1759.2 650.6 1757.3 651.0 1755.4 651.4 1753.5 651.8 1751.6 652.3 1749.7 652.7 1747.8 653.1 1745.9 653.5 1744.0 654.0 1742.1 654.4 1740.2 654.8 1738.3 655.2 1736.4 655.7 1734.5 656.1 1732.6 656.5 1730.7 657.0 1728.8 657.4 1726.9 657.8 1725.0 658.2 1723.1 658.7 1721.2 659.1 1719.3 659.5 1717.4 660.0 1715.5 660.4 1713.6 660.8 1711.7 661.2 1709.8 661.7 1707.9 662.1 1706.0 662.5 1704.1 662.9 1702.2 663.4 1700.3 663.8 1698.4 664.2 1696.5 664.6 1694.6 665.0 1692.7 665.5 1690.8 665.9 1688.9 666.3 1687.0 666.7 1685.1 667.1 1683.2 667.5 1681.3 667.9 1679.4 668.4 1677.5 668.8 1675.6 669.2 1673.7 669.6 1671.8 670.0 1669.9 670.4 1668.0 670.8 1666.1 671.2 1664.1 671.6 1662.2 671.9 1660.3 672.3 1658.4 672.7 1656.5 673.1 1654.6 673.5 1652.6 673.9 1650.7 674.3 1648.8 674.6 1646.9 675.0 1645.0 675.4 1643.1 675.8 1641.1 676.2 1639.2 676.5 1637.3 676.9 1635.4 677.3 1633.5 677.7 1631.5 678.1 1629.6 678.4 1627.7 678.8 1625.8 679.2 1623.9 679.6 1621.9 680.0 1620.0 680.4 1618.1 680.8 1616.2 681.2 1614.3 681.6 1612.4 682.0 1610.5 682.4 1608.6 682.8 1606.7 683.2 1604.8 683.6 1602.9 684.1 1601.0 684.5 1599.1 684.9 1597.2 685.3 1595.3 685.8 1593.4 686.2 1591.5 686.7 1589.6 687.1 1587.7 687.6 1585.8 688.1 1584.0 688.5 1582.1 689.0 1580.2 689.5 1578.4 690.0 1576.5 690.5 1574.7 691.0 1572.8 691.5 1571.0 692.1 1569.1 692.6 1567.3 693.2 1565.5 693.7 1563.7 694.3 1561.9 694.9 1560.1 695.5 1558.3 696.1 1556.5 696.8 1554.7 697.4 1553.0 698.1 1551.2 698.7 1549.5 699.4 1547.8 700.1 1546.1 700.8 1544.4 701.5 1542.7 702.3 1541.0 703.1 1539.4 703.9 1537.8 704.7 1536.2 705.5 1534.7 706.4 1533.2 707.4 1531.8 708.4 1530.5 709.4 1529.2 710.5 1528.1 711.7 1527.1 712.9 1526.3 714.2 1525.7 715.5 1525.3 716.8 1525.1 718.2 1525.1 719.5 1525.3 720.8 1525.7 722.1 1526.2 723.4 1526.8 724.6 1527.5 725.8 1528.3 727.0 1529.2 728.2 1530.2 729.3 1531.2 730.4 1532.4 731.5 1533.5 732.6 1534.7 733.6 1536.0 734.6 1537.3 735.6 1538.6 736.6 1540.0 737.5 1541.4 738.4 1542.9 739.3 1544.4 740.2 1545.9 741.1 1547.4 741.9 1548.9 742.8 1550.5 743.6 1552.1 744.5 1553.6 745.3 1555.2 746.1 1556.8 746.9 1558.3 747.8 1559.9 748.6 1561.5 749.5 1563.0 750.3 1564.5 751.2 1566.0 752.1 1567.5 753.0 1569.0 753.9 1570.5 754.8 1571.9 755.8 1573.4 756.7 1574.8 757.6 1576.2 758.6 1577.6 759.5 1579.0 760.5 1580.4 761.4 1581.8 762.4 1583.2 763.4 1584.6 764.3 1586.0 765.3 1587.3 766.3 1588.7 767.3 1590.1 768.2 1591.5 769.2 1592.9 770.2 1594.2 771.1 1595.6 772.1 1597.0 773.0 1598.4 774.0 1599.8 774.9 1601.2 775.9 1602.6 776.8 1604.1 777.7 1605.5 778.7 1607.0 779.6 1608.4 780.5 1609.9 781.4 1611.4 782.3 1612.9 783.1 1614.4 784.0 1615.9 784.8 1617.5 785.7 1619.1 786.5 1620.6 787.3 1622.2 788.1 1623.8 788.9 1625.4 789.7 1627.1 790.4 1628.7 791.2 1630.4 791.9 1632.0 792.7 1633.7 793.4 1635.4 794.1 1637.0 794.8 1638.7 795.5 1640.4 796.2 1642.1 796.9 1643.9 797.6 1645.6 798.3 1647.3 799.0 1649.0 799.6 1650.8 800.3 1652.5 800.9 1654.3 801.6 1656.0 802.2 1657.8 802.8 1659.6 803.5 1661.3 804.1 1663.1 804.7 1664.9 805.3 1666.6 805.9 1668.4 806.5 1670.2 807.2 1672.0 807.8 1673.8 808.4 1675.6 809.0 1677.3 809.6 1679.1 810.2 1680.9 810.8 1682.7 811.3 1684.5 811.9 1686.3 812.5 1688.1 813.1 1689.9 813.7 1691.7 814.3 1693.5 814.9 1695.3 815.5 1697.1 816.1 1698.9 816.7 1700.7 817.2 1702.5 817.8 1704.3 818.4 1706.1 819.0 1707.9 819.6 1709.7 820.2 1711.5 820.7 1713.3 821.3 1715.1 821.9 1716.9 822.5 1718.7 823.1 1720.5 823.6 1722.3 824.2 1724.1 824.8 1725.9 825.4 1727.7 825.9 1729.5 826.5 1731.3 827.1 1733.1 827.7 1735.0 828.2 1736.8 828.8 1738.6 829.4 1740.4 830.0 1742.2 830.5 1744.0 831.1 1745.8 831.7 1747.6 832.2 1749.4 832.8 1751.2 833.4 1753.0 834.0 1754.9 834.5 1756.7 835.1 1758.5 835.7 1760.3 836.2 1762.1 836.8 1763.9 837.4 1765.7 837.9 1767.5 838.5 1769.4 839.1 1771.2 839.6 1773.0 840.2 1774.8 840.8 1776.6 841.3 1778.4 841.9 1780.2 842.5 1782.0 843.1 1783.8 843.6 1785.7 844.2 1787.5 844.8 1789.3 845.3 1791.1 845.9 1792.9 846.5 1794.7 847.0 1796.5 847.6 1798.3 848.2 1800.2 848.7 1802.0 849.3 1803.8 849.9 1805.6 850.5 1807.4 851.0 1809.2 851.6 1811.0 852.2 1812.8 852.7 1814.6 853.3 1816.4 853.9 1818.3 854.5 1820.1 855.0 1821.9 855.6 1823.7 856.2 1825.5 856.8 1827.3 857.3 1829.1 857.9 1830.9 858.5 1832.7 859.1 1834.5 859.6 1836.3 860.2 1838.1 860.8 1839.9 861.4 1841.7 862.0 1843.5 862.5 1845.3 863.1 1847.1 863.7 1848.9 864.3 1850.7 864.9 1852.5 865.4 1854.4 866.0 1856.2 866.6 1858.0 867.2 1859.8 867.8 1861.6 868.4 1863.4 869.0 1865.2 869.5 1867.0 870.1 1868.8 870.7 1870.6 871.3 1872.4 871.9 1874.2 872.5 1876.0 873.1 1877.8 873.6 1879.6 874.2 1881.4 874.8 1883.1 875.4 1884.9 876.0 1886.7 876.6 1888.5 877.2 1890.3 877.8 1892.1 878.3 1893.9 878.9 1895.7 879.5 1897.5 880.1 1899.3 880.7 1901.1 881.3 1902.9 881.9 1904.7 882.5 1906.5 883.1 1908.3 883.6 1910.1 884.2 1911.9 884.8 1913.7 885.4 1915.5 886.0 1917.3 886.6 1919.1 887.2 1920.9 887.8 1922.7 888.4 1924.5 889.0 1926.3 889.6 1928.1 890.1 1929.9 890.7 1931.7 891.3 1933.5 891.9 1935.2 892.5 1937.0 893.1 1938.8 893.7 1940.6 894.3 1942.4 894.9 1944.2 895.5 1946.0 896.1 1947.8 896.6 1949.6 897.2 1951.4 897.8 1953.2 898.4 1955.0 899.0 1956.8 899.6 1958.6 900.2 1960.4 900.8 1962.2 901.4 1964.0 902.0 1965.8 902.5 1967.6 903.1 1969.4 903.7 1971.2 904.3 1973.0 904.9 1974.8 905.5 1976.5 906.1 1978.3 906.7 1980.1 907.3 1981.9 907.9 1983.7 908.5 1985.5 909.1 1987.3 909.7 1989.1 910.3 1990.9 910.8 1992.7 911.4 1994.5 912.0 1996.3 912.6 1998.1 913.2 1999.9 913.8 2001.6 914.4 2003.4 915.0 2005.2 915.6 2007.0 916.2 2008.8 916.8 2010.6 917.4 2012.4 918.0 2014.2 918.6 2015.9 919.3 2017.7 919.9 2019.5 920.5 2021.3 921.1 2023.1 921.7 2024.9 922.3 2026.6 922.9 2028.4 923.5 2030.2 924.1 2032.0 924.7 2033.8 925.4 2035.5 926.0 2037.3 926.6 2039.1 927.2 2040.9 927.8 2042.6 928.5 2044.4 929.1 2046.2 929.7 2047.9 930.3 2049.7 931.0 2051.5 931.6 2053.2 932.2 2055.0 932.9 2056.8 933.5 2058.5 934.1 2060.3 934.8 2062.0 935.4 2063.8 936.1 2065.6 936.7 2067.3 937.3 2069.1 938.0 2070.8 938.6 2072.6 939.3 2074.3 939.9 2076.1 940.6 2077.8 941.2 2079.6 941.9 2081.3 942.6 2083.0 943.2 2084.8 943.9 2086.5 944.6 2088.3 945.2 2090.0 945.9 2091.7 946.6 2093.5 947.2 2095.2 947.9 2096.9 948.6 2098.6 949.3 2100.4 950.0 2102.1 950.6 2103.8 951.3 2105.5 952.0 2107.2 952.7 2108.9 953.4 2110.7 954.1 2112.4 954.8 2114.1 955.5 2115.8 956.2 2117.5 956.9 2119.2 957.6 2120.9 958.3 2122.6 959.0 2124.3 959.7 2126.0 960.4 2127.7 961.1 2129.4 961.8 2131.1 962.5 2132.8 963.3 2134.5 964.0 2136.2 964.7 2137.9 965.4 2139.5 966.1 2141.2 966.9 2142.9 967.6 2144.6 968.3 2146.3 969.0 2147.9 969.8 2149.6 970.5 2151.3 971.2 2153.0 972.0 2154.6 972.7 2156.3 973.4 2158.0 974.2 2159.7 974.9 2161.3 975.7 2163.0 976.4 2164.7 977.1 2166.3 977.9 2168.0 978.6 2169.6 979.4 2171.3 980.1 2173.0 980.9 2174.6 981.6 2176.3 982.4 2177.9 983.1 2179.6 983.9 2181.2 984.6 2182.9 985.4 2184.5 986.2 2186.2 986.9 2187.8 987.7 2189.5 988.4 2191.1 989.2 2192.8 990.0 2194.4 990.7 2196.0 991.5 2197.7 992.3 2199.3 993.0 2201.0 993.8 2202.6 994.6 2204.2 995.3 2205.9 996.1 2207.5 996.9 2209.1 997.7 2210.8 998.4 2212.4 999.2 2214.0 1000.0 2215.6 1000.8 2217.3 1001.5 2218.9 1002.3 2220.5 1003.1 2222.2 1003.9 2223.8 1004.7 2225.4 1005.5 2227.0 1006.2 2228.6 1007.0 2230.3 1007.8 2231.9 1008.6 2233.5 1009.4 2235.1 1010.2 2236.7 1011.0 2238.3 1011.8 2240.0 1012.6 2241.6 1013.3 2243.2 1014.1 2244.8 1014.9 2246.4 1015.7 2248.0 1016.5 2249.6 1017.3 2251.2 1018.2 2252.8 1019.0 2254.4 1019.8 2256.0 1020.6 2257.6 1021.4 2259.2 1022.2 2260.7 1023.0 2262.3 1023.8 2263.9 1024.7 2265.5 1025.5 2267.1 1026.3 2268.6 1027.1 2270.2 1028.0 2271.8 1028.8 2273.4 1029.6 2274.9 1030.4 2276.5 1031.3 2278.1 1032.1 2279.6 1033.0 2281.2 1033.8 2282.7 1034.6 2284.3 1035.5 2285.8 1036.3 2287.4 1037.2 2288.9 1038.1 2290.4 1038.9 2292.0 1039.8 2293.5 1040.6 2295.0 1041.5 2296.6 1042.4 2298.1 1043.2 2299.6 1044.1 2301.1 1045.0 2302.6 1045.9 2304.1 1046.7 2305.7 1047.6 2307.2 1048.5 2308.7 1049.4 2310.1 1050.3 2311.6 1051.2 2313.1 1052.1 2314.6 1053.0 2316.1 1053.9 2317.6 1054.8 2319.0 1055.7 2320.5 1056.6 2322.0 1057.5 2323.4 1058.4 2324.9 1059.4 2326.3 1060.3 2327.8 1061.2 2329.2 1062.2 2330.6 1063.1 2332.1 1064.0 2333.5 1065.0 2334.9 1065.9 2336.3 1066.9 2337.7 1067.8 2339.1 1068.8 2340.5 1069.7 2341.9 1070.7 2343.3 1071.7 2344.7 1072.6 2346.1 1073.6 2347.5 1074.6 2348.8 1075.5 2350.2 1076.5 2351.5 1077.5 2352.9 1078.5 2354.2 1079.5 2355.6 1080.5 2356.9 1081.5 2358.2 1082.5 2359.6 1083.5 2360.9 1084.5 2362.2 1085.5 2363.5 1086.5 2364.8 1087.6 2366.1 1088.6 2367.4 1089.6 2368.6 1090.6 2369.9 1091.7 2371.2 1092.7 2372.4 1093.8 2373.7 1094.8 2374.9 1095.9 2376.1 1096.9 2377.4 1098.0 2378.6 1099.0 2379.8 1100.1 2381.0 1101.2 2382.2 1102.3 2383.4 1103.3 2384.6 1104.4 2385.7 1105.5 2386.9 1106.6 2388.0 1107.7 2389.2 1108.8 2390.3 1109.9 2391.5 1111.0 2392.6 1112.1 2393.7 1113.2 2394.8 1114.3 2395.9 1115.5 2397.0 1116.6 2398.0 1117.7 2399.1 1118.9 2400.2 1120.0 2401.2 1121.1 2402.2 1122.3 2403.3 1123.4 2404.3 1124.6 2405.3 1125.8 2406.3 1126.9 2407.3 1128.1 2408.2 1129.3 2409.2 1130.4 2410.1 1131.6 2411.1 1132.8 2412.0 1134.0 2412.9 1135.2 2413.8 1136.4 2414.7 1137.6 2415.6 1138.8 2416.5 1140.0 2417.4 1141.2 2418.2 1142.4 2419.0 1143.6 2419.9 1144.8 2420.7 1146.1 2421.5 1147.3 2422.3 1148.5 2423.0 1149.7 2423.8 1151.0 2424.5 1152.2 2425.3 1153.5 2426.0 1154.7 2426.7 1156.0 2427.4 1157.2 2428.1 1158.5 2428.8 1159.7 2429.4 1161.0 2430.1 1162.3 2430.7 1163.5 2431.4 1164.8 2432.0 1166.1 2432.6 1167.3 2433.3 1168.6 2433.9 1169.9 2434.5 1171.2 2435.0 1172.4 2435.6 1173.7 2436.2 1175.0 2436.8 1176.3 2437.4 1177.5 2437.9 1178.8 2438.5 1180.1 2439.1 1181.4 2439.6 1182.7 2440.2 1184.0 2440.7 1185.2 2441.3 1186.5 2441.8 1187.8 2442.4 1189.1 2442.9 1190.4 2443.5 1191.7 2444.0 1192.9 2444.6 1194.2 2445.1 1195.5 2445.7 1196.8 2446.2 1198.1 2446.8 1199.4 2447.3 1200.6 2447.9 1201.9 2448.5 1203.2 2449.0 1204.5 2449.6 1205.8 2450.2 1207.0 2450.7 1208.3 2451.3 1209.6 2451.9 1210.9 2452.4 1212.2 2453.0 1213.4 2453.6 1214.7 2454.1 1216.0 2454.7 1217.3 2455.3 1218.6 2455.8 1219.8 2456.4 1221.1 2456.9 1222.4 2457.5 1223.7 2458.1 1225.0 2458.6 1226.3 2459.2 1227.5 2459.7 1228.8 2460.2 1230.1 2460.8 1231.4 2461.3 1232.7 2461.8 1234.0 2462.3 1235.3 2462.9 1236.6 2463.4 1237.9 2463.9 1239.2 2464.4 1240.4 2464.9 1241.7 2465.3 1243.0 2465.8 1244.3 2466.3 1245.6 2466.7 1246.9 2467.2 1248.2 2467.6 1249.5 2468.1 1250.8 2468.5 1252.2 2468.9 1253.5 2469.4 1254.8 2469.8 1256.1 2470.2 1257.4 2470.6 1258.7 2470.9 1260.0 2471.3 1261.3 2471.7 1262.6 2472.1 1263.9 2472.4 1265.3 2472.8 1266.6 2473.1 1267.9 2473.5 1269.2 2473.8 1270.5 2474.2 1271.8 2474.5 1273.1 2474.8 1274.5 2475.1 1275.8 2475.5 1277.1 2475.8 1278.4 2476.1 1279.7 2476.4 1281.1 2476.7 1282.4 2477.0 1283.7 2477.2 1285.0 2477.5 1286.3 2477.8 1287.7 2478.1 1289.0 2478.4 1290.3 2478.6 1291.6 2478.9 1293.0 2479.2 1294.3 2479.4 1295.6 2479.7 1296.9 2480.0 1298.3 2480.2 1299.6 2480.5 1300.9 2480.7 1302.2 2481.0 1303.6 2481.2 1304.9 2481.5 1306.2 2481.7 1307.5 2482.0 1308.9 2482.2 1310.2 2482.4 1311.5 2482.7 1312.8 2482.9 1314.2 2483.2 1315.5 2483.4 1316.8 2483.6 1318.1 2483.9 1319.5 2484.1 1320.8 2484.4 1322.1 2484.6 1323.4 2484.8 1324.8 2485.1 1326.1 2485.3 1327.4 2485.6 1328.7 2485.8 1330.1 2486.1 1331.4 2486.3 1332.7 2486.6 1334.0 2486.8 1335.4 2487.1 1336.7 2487.3 1338.0 2487.6 1339.3 2487.8 1340.6 2488.1 1342.0 2488.4 1343.3 2488.6 1344.6 2488.9 1345.9 2489.2 1347.3 2489.4 1348.6 2489.7 1349.9 2490.0 1351.2 2490.3" fill="none" stroke="#ff0000" stroke-width="8.0" stroke-linejoin="round" stroke-linecap="butt"/>
<path d="M265.3 2509.0 L431.3 2509.0 433.3 2506.2 511.0 2506.2 512.0 2503.3 526.7 2503.3 528.1 2504.3 529.3 2503.3 530.4 2502.3 531.6 2501.2 532.7 2500.1 533.8 2499.0 534.9 2497.8 535.9 2496.6 537.0 2495.4 538.0 2494.1 539.0 2492.8 540.0 2491.5 541.0 2490.1 541.9 2488.7 542.9 2487.2 543.8 2485.8 544.7 2484.3 545.5 2482.7 546.4 2481.2 547.2 2479.6 548.0 2478.0 548.7 2476.4 549.5 2474.7 550.2 2473.0 550.9 2471.3 551.6 2469.6 552.3 2467.9 553.0 2466.1 553.6 2464.4 554.2 2462.6 554.8 2460.8 555.4 2459.0 555.9 2457.2 556.5 2455.4 557.0 2453.5 557.5 2451.7 558.0 2449.8 558.5 2447.9 559.0 2446.1 559.4 2444.2 559.9 2442.3 560.3 2440.4 560.7 2438.5 561.2 2436.6 561.6 2434.7 561.9 2432.8 562.3 2430.9 562.7 2428.9 563.1 2427.0 563.4 2425.1 563.8 2423.1 564.1 2421.2 564.5 2419.3 564.8 2417.3 565.1 2415.4 565.5 2413.4 565.8 2411.5 566.1 2409.6 566.4 2407.6 566.7 2405.7 567.0 2403.7 567.3 2401.8 567.6 2399.8 567.9 2397.9 568.2 2395.9 568.5 2394.0 568.8 2392.0 569.1 2390.1 569.4 2388.1 569.7 2386.2 570.0 2384.2 570.3 2382.2 570.6 2380.3 570.9 2378.3 571.2 2376.4 571.5 2374.4 571.8 2372.5 572.1 2370.5 572.3 2368.6 572.6 2366.6 572.9 2364.6 573.2 2362.7 573.5 2360.7 573.8 2358.8 574.0 2356.8 574.3 2354.8 574.6 2352.9 574.9 2350.9 575.1 2349.0 575.4 2347.0 575.7 2345.0 575.9 2343.1 576.2 2341.1 576.5 2339.1 576.7 2337.2 577.0 2335.2 577.3 2333.3 577.5 2331.3 577.8 2329.3 578.1 2327.4 578.3 2325.4 578.6 2323.4 578.8 2321.5 579.1 2319.5 579.3 2317.5 579.6 2315.6 579.8 2313.6 580.1 2311.6 580.3 2309.7 580.6 2307.7 580.8 2305.7 581.1 2303.8 581.3 2301.8 581.6 2299.8 581.8 2297.9 582.1 2295.9 582.3 2293.9 582.6 2291.9 582.8 2290.0 583.0 2288.0 583.3 2286.0 583.5 2284.1 583.8 2282.1 584.0 2280.1 584.2 2278.1 584.5 2276.2 584.7 2274.2 584.9 2272.2 585.2 2270.3 585.4 2268.3 585.6 2266.3 585.8 2264.3 586.1 2262.4 586.3 2260.4 586.5 2258.4 586.8 2256.4 587.0 2254.5 587.2 2252.5 587.4 2250.5 587.7 2248.5 587.9 2246.6 588.1 2244.6 588.3 2242.6 588.6 2240.6 588.8 2238.7 589.0 2236.7 589.2 2234.7 589.4 2232.7 589.7 2230.8 589.9 2228.8 590.1 2226.8 590.3 2224.8 590.6 2222.9 590.8 2220.9 591.0 2218.9 591.2 2216.9 591.4 2215.0 591.7 2213.0 591.9 2211.0 592.1 2209.0 592.3 2207.1 592.5 2205.1 592.8 2203.1 593.0 2201.1 593.2 2199.2 593.4 2197.2 593.6 2195.2 593.9 2193.2 594.1 2191.3 594.3 2189.3 594.5 2187.3 594.7 2185.3 595.0 2183.4 595.2 2181.4 595.4 2179.4 595.6 2177.4 595.9 2175.5 596.1 2173.5 596.3 2171.5 596.5 2169.5 596.8 2167.6 597.0 2165.6 597.2 2163.6 597.4 2161.6 597.7 2159.7 597.9 2157.7 598.1 2155.7 598.4 2153.7 598.6 2151.8 598.8 2149.8 599.0 2147.8 599.3 2145.9 599.5 2143.9 599.8 2141.9 600.0 2139.9 600.2 2138.0 600.5 2136.0 600.7 2134.0 600.9 2132.1 601.2 2130.1 601.4 2128.1 601.7 2126.1 601.9 2124.2 602.2 2122.2 602.4 2120.2 602.7 2118.3 602.9 2116.3 603.2 2114.3 603.4 2112.4 603.7 2110.4 603.9 2108.4 604.2 2106.5 604.4 2104.5 604.7 2102.5 604.9 2100.6 605.2 2098.6 605.5 2096.6 605.7 2094.7 606.0 2092.7 606.3 2090.8 606.5 2088.8 606.8 2086.8 607.1 2084.9 607.4 2082.9 607.6 2080.9 607.9 2079.0 608.2 2077.0 608.5 2075.1 608.8 2073.1 609.0 2071.2 609.3 2069.2 609.6 2067.2 609.9 2065.3 610.2 2063.3 610.5 2061.4 610.8 2059.4 611.1 2057.5 611.4 2055.5 611.7 2053.6 612.0 2051.6 612.3 2049.7 612.6 2047.7 612.9 2045.8 613.2 2043.8 613.5 2041.9 613.9 2039.9 614.2 2038.0 614.5 2036.0 614.8 2034.1 615.2 2032.2 615.5 2030.2 615.8 2028.3 616.2 2026.3 616.5 2024.4 616.8 2022.5 617.2 2020.5 617.5 2018.6 617.9 2016.7 618.2 2014.7 618.6 2012.8 618.9 2010.9 619.3 2008.9 619.6 2007.0 620.0 2005.1 620.4 2003.1 620.7 2001.2 621.1 1999.3 621.5 1997.4 621.9 1995.5 622.2 1993.5 622.6 1991.6 623.0 1989.7 623.4 1987.8 623.8 1985.9 624.2 1983.9 624.6 1982.0 625.0 1980.1 625.4 1978.2 625.8 1976.3 626.2 1974.4 626.6 1972.5 627.0 1970.6 627.4 1968.7 627.9 1966.8 628.3 1964.9 628.7 1963.0 629.1 1961.1 629.6 1959.2 630.0 1957.3 630.4 1955.4 630.9 1953.5 631.3 1951.6 631.7 1949.7 632.2 1947.8 632.6 1945.9 633.1 1944.1 633.5 1942.2 634.0 1940.3 634.4 1938.4 634.9 1936.5 635.4 1934.6 635.8 1932.8 636.3 1930.9 636.7 1929.0 637.2 1927.1 637.7 1925.3 638.2 1923.4 638.6 1921.5 639.1 1919.6 639.6 1917.8 640.1 1915.9 640.6 1914.0 641.0 1912.2 641.5 1910.3 642.0 1908.4 642.5 1906.6 643.0 1904.7 643.5 1902.8 644.0 1901.0 644.5 1899.1 645.0 1897.3 645.5 1895.4 646.0 1893.6 646.5 1891.7 647.0 1889.8 647.5 1888.0 648.0 1886.1 648.5 1884.3 649.0 1882.4 649.5 1880.6 650.1 1878.7 650.6 1876.9 651.1 1875.0 651.6 1873.2 652.1 1871.4 652.7 1869.5 653.2 1867.7 653.7 1865.8 654.2 1864.0 654.8 1862.1 655.3 1860.3 655.8 1858.5 656.3 1856.6 656.9 1854.8 657.4 1853.0 657.9 1851.1 658.5 1849.3 659.0 1847.4 659.5 1845.6 660.1 1843.8 660.6 1841.9 661.1 1840.1 661.6 1838.2 662.2 1836.4 662.7 1834.6 663.2 1832.7 663.7 1830.9 664.3 1829.0 664.8 1827.2 665.3 1825.3 665.8 1823.5 666.3 1821.6 666.8 1819.8 667.3 1817.9 667.8 1816.1 668.3 1814.2 668.8 1812.4 669.3 1810.5 669.8 1808.6 670.3 1806.8 670.8 1804.9 671.2 1803.0 671.7 1801.1 672.2 1799.2 672.6 1797.4 673.1 1795.5 673.5 1793.6 673.9 1791.7 674.4 1789.8 674.8 1787.9 675.2 1786.0 675.6 1784.1 676.0 1782.2 676.5 1780.3 676.9 1778.4 677.3 1776.5 677.7 1774.6 678.1 1772.6 678.5 1770.7 678.9 1768.8 679.3 1766.9 679.7 1765.0 680.1 1763.1 680.5 1761.2 680.9 1759.3 681.3 1757.4 681.8 1755.5 682.2 1753.6 682.6 1751.7 683.1 1749.8 683.5 1747.9 684.0 1746.1 684.5 1744.2 684.9 1742.3 685.4 1740.4 685.9 1738.6 686.4 1736.7 686.9 1734.9 687.5 1733.0 688.0 1731.2 688.6 1729.4 689.1 1727.6 689.7 1725.8 690.3 1724.0 690.9 1722.2 691.5 1720.4 692.2 1718.6 692.8 1716.9 693.5 1715.2 694.2 1713.5 694.9 1711.8 695.7 1710.1 696.4 1708.5 697.3 1706.9 698.1 1705.3 698.9 1703.8 699.8 1702.3 700.8 1700.9 701.7 1699.5 702.7 1698.1 703.7 1696.8 704.8 1695.6 705.9 1694.5 707.0 1693.4 708.2 1692.4 709.3 1691.5 710.6 1690.6 711.8 1689.9 713.1 1689.3 714.4 1688.8 715.7 1688.5 717.0 1688.3 718.4 1688.2 719.7 1688.3 721.0 1688.5 722.3 1688.9 723.6 1689.3 724.9 1689.9 726.2 1690.6 727.4 1691.4 728.6 1692.2 729.8 1693.2 730.9 1694.1 732.1 1695.2 733.2 1696.3 734.3 1697.4 735.4 1698.6 736.5 1699.8 737.5 1701.0 738.5 1702.3 739.6 1703.6 740.6 1704.9 741.5 1706.3 742.5 1707.6 743.5 1709.0 744.4 1710.4 745.4 1711.8 746.3 1713.2 747.3 1714.6 748.2 1716.1 749.2 1717.5 750.1 1718.9 751.1 1720.3 752.0 1721.7 753.0 1723.0 754.0 1724.4 755.0 1725.8 756.0 1727.1 757.0 1728.4 758.0 1729.7 759.0 1731.0 760.0 1732.3 761.1 1733.6 762.1 1734.8 763.1 1736.1 764.2 1737.4 765.2 1738.6 766.3 1739.9 767.3 1741.1 768.4 1742.3 769.4 1743.6 770.5 1744.8 771.5 1746.1 772.6 1747.3 773.6 1748.6 774.6 1749.8 775.7 1751.1 776.7 1752.3 777.7 1753.6 778.8 1754.9 779.8 1756.2 780.8 1757.5 781.8 1758.8 782.8 1760.2 783.8 1761.5 784.7 1762.9 785.7 1764.3 786.7 1765.7 787.6 1767.1 788.5 1768.6 789.4 1770.0 790.3 1771.5 791.2 1773.0 792.1 1774.5 793.0 1776.0 793.8 1777.6 794.7 1779.1 795.5 1780.7 796.3 1782.3 797.2 1783.8 798.0 1785.4 798.8 1787.0 799.5 1788.7 800.3 1790.3 801.1 1791.9 801.9 1793.6 802.6 1795.2 803.4 1796.9 804.1 1798.5 804.8 1800.2 805.6 1801.9 806.3 1803.6 807.0 1805.3 807.7 1807.0 808.4 1808.6 809.1 1810.3 809.9 1812.1 810.6 1813.8 811.2 1815.5 811.9 1817.2 812.6 1818.9 813.3 1820.6 814.0 1822.3 814.7 1824.0 815.4 1825.8 816.1 1827.5 816.7 1829.2 817.4 1830.9 818.1 1832.7 818.8 1834.4 819.5 1836.1 820.1 1837.8 820.8 1839.6 821.5 1841.3 822.2 1843.0 822.8 1844.8 823.5 1846.5 824.2 1848.2 824.8 1850.0 825.5 1851.7 826.2 1853.4 826.8 1855.2 827.5 1856.9 828.2 1858.6 828.8 1860.4 829.5 1862.1 830.2 1863.9 830.8 1865.6 831.5 1867.3 832.1 1869.1 832.8 1870.8 833.4 1872.6 834.1 1874.3 834.8 1876.1 835.4 1877.8 836.1 1879.5 836.7 1881.3 837.4 1883.0 838.0 1884.8 838.7 1886.5 839.4 1888.3 840.0 1890.0 840.7 1891.8 841.3 1893.5 842.0 1895.3 842.6 1897.0 843.3 1898.8 843.9 1900.5 844.6 1902.2 845.2 1904.0 845.9 1905.7 846.5 1907.5 847.2 1909.2 847.9 1911.0 848.5 1912.7 849.2 1914.5 849.8 1916.2 850.5 1918.0 851.1 1919.7 851.8 1921.4 852.4 1923.2 853.1 1924.9 853.8 1926.7 854.4 1928.4 855.1 1930.2 855.7 1931.9 856.4 1933.6 857.1 1935.4 857.7 1937.1 858.4 1938.9 859.0 1940.6 859.7 1942.3 860.4 1944.1 861.0 1945.8 861.7 1947.6 862.4 1949.3 863.0 1951.0 863.7 1952.8 864.4 1954.5 865.1 1956.2 865.7 1958.0 866.4 1959.7 867.1 1961.4 867.7 1963.1 868.4 1964.9 869.1 1966.6 869.8 1968.3 870.5 1970.1 871.1 1971.8 871.8 1973.5 872.5 1975.2 873.2 1977.0 873.8 1978.7 874.5 1980.4 875.2 1982.1 875.9 1983.8 876.6 1985.6 877.3 1987.3 877.9 1989.0 878.6 1990.7 879.3 1992.4 880.0 1994.2 880.7 1995.9 881.4 1997.6 882.1 1999.3 882.8 2001.0 883.5 2002.7 884.1 2004.4 884.8 2006.2 885.5 2007.9 886.2 2009.6 886.9 2011.3 887.6 2013.0 888.3 2014.7 889.0 2016.4 889.7 2018.1 890.4 2019.8 891.1 2021.5 891.8 2023.3 892.5 2025.0 893.2 2026.7 893.9 2028.4 894.6 2030.1 895.3 2031.8 896.0 2033.5 896.7 2035.2 897.4 2036.9 898.1 2038.6 898.8 2040.3 899.5 2042.0 900.2 2043.7 900.9 2045.4 901.6 2047.1 902.3 2048.8 903.1 2050.5 903.8 2052.2 904.5 2053.9 905.2 2055.6 905.9 2057.3 906.6 2059.0 907.3 2060.7 908.0 2062.4 908.7 2064.1 909.5 2065.8 910.2 2067.5 910.9 2069.2 911.6 2070.8 912.3 2072.5 913.0 2074.2 913.7 2075.9 914.5 2077.6 915.2 2079.3 915.9 2081.0 916.6 2082.7 917.3 2084.4 918.0 2086.1 918.8 2087.7 919.5 2089.4 920.2 2091.1 920.9 2092.8 921.6 2094.5 922.4 2096.2 923.1 2097.9 923.8 2099.6 924.5 2101.2 925.2 2102.9 926.0 2104.6 926.7 2106.3 927.4 2108.0 928.1 2109.7 928.9 2111.3 929.6 2113.0 930.3 2114.7 931.0 2116.4 931.8 2118.1 932.5 2119.7 933.2 2121.4 934.0 2123.1 934.7 2124.8 935.4 2126.5 936.1 2128.1 936.9 2129.8 937.6 2131.5 938.3 2133.2 939.1 2134.8 939.8 2136.5 940.5 2138.2 941.3 2139.9 942.0 2141.6 942.7 2143.2 943.5 2144.9 944.2 2146.6 944.9 2148.2 945.7 2149.9 946.4 2151.6 947.1 2153.3 947.9 2154.9 948.6 2156.6 949.3 2158.3 950.1 2159.9 950.8 2161.6 951.5 2163.3 952.3 2165.0 953.0 2166.6 953.8 2168.3 954.5 2170.0 955.2 2171.6 956.0 2173.3 956.7 2175.0 957.5 2176.6 958.2 2178.3 958.9 2180.0 959.7 2181.6 960.4 2183.3 961.2 2185.0 961.9 2186.6 962.7 2188.3 963.4 2190.0 964.1 2191.6 964.9 2193.3 965.6 2194.9 966.4 2196.6 967.1 2198.2 967.9 2199.9 968.7 2201.6 969.4 2203.2 970.2 2204.9 970.9 2206.5 971.7 2208.1 972.5 2209.8 973.2 2211.4 974.0 2213.1 974.8 2214.7 975.5 2216.3 976.3 2218.0 977.1 2219.6 977.9 2221.2 978.7 2222.8 979.5 2224.4 980.3 2226.1 981.1 2227.7 981.9 2229.3 982.7 2230.9 983.5 2232.5 984.3 2234.0 985.1 2235.6 985.9 2237.2 986.7 2238.8 987.6 2240.4 988.4 2241.9 989.2 2243.5 990.1 2245.1 990.9 2246.6 991.8 2248.2 992.6 2249.7 993.5 2251.2 994.3 2252.8 995.2 2254.3 996.0 2255.8 996.9 2257.4 997.8 2258.9 998.6 2260.4 999.5 2261.9 1000.4 2263.4 1001.3 2264.9 1002.2 2266.4 1003.0 2267.9 1003.9 2269.4 1004.8 2270.9 1005.7 2272.4 1006.6 2273.9 1007.5 2275.4 1008.4 2276.9 1009.3 2278.4 1010.2 2279.9 1011.1 2281.3 1012.0 2282.8 1012.9 2284.3 1013.8 2285.8 1014.7 2287.3 1015.6 2288.7 1016.5 2290.2 1017.4 2291.7 1018.3 2293.2 1019.2 2294.6 1020.1 2296.1 1021.0 2297.6 1021.9 2299.0 1022.8 2300.5 1023.7 2302.0 1024.6 2303.5 1025.6 2304.9 1026.5 2306.4 1027.4 2307.8 1028.3 2309.3 1029.2 2310.8 1030.1 2312.2 1031.0 2313.7 1032.0 2315.1 1032.9 2316.6 1033.8 2318.0 1034.7 2319.5 1035.7 2320.9 1036.6 2322.4 1037.5 2323.8 1038.5 2325.2 1039.4 2326.7 1040.3 2328.1 1041.3 2329.5 1042.2 2330.9 1043.1 2332.3 1044.1 2333.8 1045.0 2335.2 1046.0 2336.6 1046.9 2338.0 1047.9 2339.4 1048.9 2340.8 1049.8 2342.2 1050.8 2343.6 1051.8 2344.9 1052.7 2346.3 1053.7 2347.7 1054.7 2349.0 1055.7 2350.4 1056.6 2351.8 1057.6 2353.1 1058.6 2354.5 1059.6 2355.8 1060.6 2357.1 1061.6 2358.5 1062.6 2359.8 1063.6 2361.1 1064.6 2362.4 1065.6 2363.7 1066.7 2365.0 1067.7 2366.3 1068.7 2367.6 1069.7 2368.9 1070.8 2370.1 1071.8 2371.4 1072.8 2372.6 1073.9 2373.9 1074.9 2375.1 1076.0 2376.4 1077.1 2377.6 1078.1 2378.8 1079.2 2380.0 1080.3 2381.2 1081.3 2382.4 1082.4 2383.6 1083.5 2384.7 1084.6 2385.9 1085.7 2387.0 1086.8 2388.2 1087.9 2389.3 1089.0 2390.4 1090.1 2391.5 1091.2 2392.6 1092.3 2393.7 1093.5 2394.8 1094.6 2395.9 1095.7 2396.9 1096.9 2398.0 1098.0 2399.0 1099.1 2400.1 1100.3 2401.1 1101.4 2402.1 1102.6 2403.1 1103.7 2404.1 1104.9 2405.1 1106.1 2406.1 1107.2 2407.1 1108.4 2408.0 1109.6 2409.0 1110.8 2409.9 1111.9 2410.9 1113.1 2411.8 1114.3 2412.7 1115.5 2413.6 1116.7 2414.5 1117.9 2415.4 1119.1 2416.3 1120.3 2417.2 1121.5 2418.1 1122.7 2418.9 1123.9 2419.8 1125.1 2420.6 1126.3 2421.4 1127.5 2422.3 1128.8 2423.1 1130.0 2423.9 1131.2 2424.7 1132.4 2425.5 1133.7 2426.3 1134.9 2427.1 1136.1 2427.8 1137.4 2428.6 1138.6 2429.4 1139.8 2430.1 1141.1 2430.9 1142.3 2431.6 1143.6 2432.3 1144.8 2433.0 1146.1 2433.8 1147.3 2434.5 1148.6 2435.2 1149.8 2435.9 1151.1 2436.5 1152.3 2437.2 1153.6 2437.9 1154.8 2438.6 1156.1 2439.2 1157.4 2439.9 1158.6 2440.5 1159.9 2441.1 1161.2 2441.8 1162.4 2442.4 1163.7 2443.0 1165.0 2443.6 1166.2 2444.2 1167.5 2444.8 1168.8 2445.4 1170.1 2446.0 1171.3 2446.6 1172.6 2447.2 1173.9 2447.8 1175.2 2448.3 1176.5 2448.9 1177.7 2449.4 1179.0 2450.0 1180.3 2450.5 1181.6 2451.1 1182.9 2451.6 1184.2 2452.2 1185.5 2452.7 1186.8 2453.2 1188.0 2453.7 1189.3 2454.3 1190.6 2454.8 1191.9 2455.3 1193.2 2455.8 1194.5 2456.3 1195.8 2456.8 1197.1 2457.3 1198.4 2457.8 1199.7 2458.3 1201.0 2458.8 1202.3 2459.3 1203.6 2459.8 1204.8 2460.3 1206.1 2460.8 1207.4 2461.3 1208.7 2461.8 1210.0 2462.2 1211.3 2462.7 1212.6 2463.2 1213.9 2463.7 1215.2 2464.2 1216.5 2464.7 1217.8 2465.2 1219.1 2465.6 1220.4 2466.1 1221.7 2466.6 1223.0 2467.1 1224.3 2467.6 1225.6 2468.0 1226.9 2468.5 1228.2 2469.0 1229.5 2469.4 1230.8 2469.9 1232.1 2470.3 1233.4 2470.8 1234.7 2471.2 1236.0 2471.7 1237.3 2472.1 1238.6 2472.5 1239.9 2472.9 1241.2 2473.4 1242.5 2473.8 1243.8 2474.2 1245.1 2474.6 1246.4 2475.0 1247.7 2475.4 1249.1 2475.8 1250.4 2476.1 1251.7 2476.5 1253.0 2476.9 1254.3 2477.2 1255.6 2477.6 1256.9 2477.9 1258.3 2478.2 1259.6 2478.6 1260.9 2478.9 1262.2 2479.2 1263.5 2479.5 1264.9 2479.8 1266.2 2480.1 1267.5 2480.4 1268.8 2480.6 1270.1 2480.9 1271.5 2481.2 1272.8 2481.4 1274.1 2481.7 1275.4 2481.9 1276.8 2482.2 1278.1 2482.4 1279.4 2482.6 1280.7 2482.9 1282.1 2483.1 1283.4 2483.3 1284.7 2483.5 1286.1 2483.7 1287.4 2483.9 1288.7 2484.1 1290.0 2484.3 1291.4 2484.5 1292.7 2484.7 1294.0 2484.9 1295.4 2485.1 1296.7 2485.3 1298.0 2485.5 1299.4 2485.6 1300.7 2485.8 1302.0 2486.0 1303.3 2486.1 1304.7 2486.3 1306.0 2486.5 1307.3 2486.6 1308.7 2486.8 1310.0 2486.9 1311.3 2487.1 1312.7 2487.3 1314.0 2487.4 1315.3 2487.6 1316.7 2487.7 1318.0 2487.9 1319.3 2488.0 1320.7 2488.2 1322.0 2488.3 1323.3 2488.5 1324.6 2488.6 1326.0 2488.7 1327.3 2488.9 1328.6 2489.0 1330.0 2489.2 1331.3 2489.3 1332.6 2489.5 1334.0 2489.6 1335.3 2489.8 1336.6 2489.9 1338.0 2490.1 1339.3 2490.3 1340.6 2490.4 1342.0 2490.6 1343.3 2490.7 1344.6 2490.9 1346.0 2491.1 1347.3 2491.2 1348.6 2491.4 1349.9 2491.6 1351.3 2491.8" fill="none" stroke="#0000ff" stroke-width="8.0" stroke-linejoin="round" stroke-linecap="butt"/>
<line x1="1049.3" y1="1651.6" x2="1124.0" y2="1651.6" stroke="#0000ff" stroke-width="8.2" stroke-linecap="round"/>
<line x1="1049.3" y1="1725" x2="1124.0" y2="1725" stroke="#ff0000" stroke-width="8.2" stroke-linecap="round"/>
</g>
</svg>
</body></html>
